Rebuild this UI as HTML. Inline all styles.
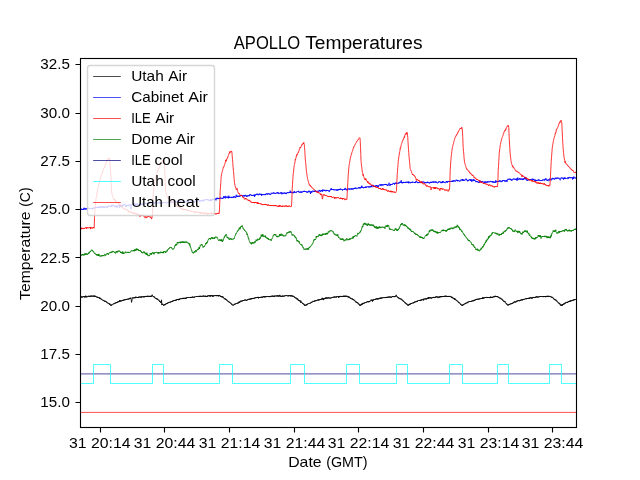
<!DOCTYPE html>
<html><head><meta charset="utf-8"><title>APOLLO Temperatures</title>
<style>
html,body{margin:0;padding:0;background:#fff;width:640px;height:480px;overflow:hidden;font-family:"Liberation Sans",sans-serif;}
svg{position:absolute;left:0;top:0;display:block;will-change:transform}
</style></head><body>
<svg width="640" height="480" viewBox="0 0 640 480">
<defs><clipPath id="ax"><rect x="80.5" y="58.5" width="496" height="369"/></clipPath></defs>
<g clip-path="url(#ax)" fill="none" stroke-linejoin="round" stroke-width="0.70">
<path d="M80.5 297.53L80.8 296.78L81 297.25L81.2 296.64L81.5 297.54L81.8 296.5L82 297.21L82.2 296.61L82.5 297.38L82.8 296.77L83 297.16L83.2 296.36L83.5 297.09L83.8 296.47L84 297.02L84.2 296.38L84.5 297.35L84.8 296.26L85 297.27L85.2 296.31L85.5 297.22L85.8 295.63L86 297.15L86.2 296.53L86.5 297.33L86.8 296.48L87 297.04L87.2 296.43L87.5 297.11L87.8 296.33L88 295.94L88.2 295.92L88.5 296.51L88.8 295.86L89 296.84L89.2 295.89L89.5 296.65L89.8 295.98L90 296.84L90.2 295.84L90.5 296.69L90.8 295.75L91 296.4L91.2 295.59L91.5 296.41L91.8 295.81L92 296.48L92.2 295.89L92.5 296.46L92.8 295.72L93 296.34L93.2 295.76L93.5 296.47L93.8 295.67L94 296.54L94.2 295.79L94.5 296.59L94.8 295.62L95 296.55L95.2 295.89L95.5 296.87L95.8 296.24L96 296.93L96.2 296.44L96.5 297.12L96.8 296.82L97 297.62L97.2 296.73L97.5 297.53L97.8 296.94L98 297.63L98.2 297.02L98.5 297.87L98.8 297.26L99 298.11L99.2 297.64L99.5 298.6L99.8 297.53L100 298.88L100.2 298.32L100.5 299.05L100.8 298.36L101 299.31L101.2 298.91L101.5 299.74L101.8 299.11L102 299.73L102.2 299.6L102.5 300.17L102.8 299.85L103 300.59L103.2 300.12L103.5 301.01L103.8 300.4L104 301.14L104.2 300.63L104.5 301.48L104.8 300.88L105 301.55L105.2 300.81L105.5 301.7L105.8 301.19L106 302.02L106.2 301.53L106.5 302.49L106.8 301.85L107 302.66L107.2 302.26L107.5 303.11L107.8 302.78L108 303.58L108.2 303.22L108.5 303.78L108.8 303.29L109 304.13L109.2 303.48L109.5 304.48L109.8 303.62L110 304.93L110.2 304.48L110.5 305.24L110.8 304.57L111 305.85L111.2 304.77L111.5 305.43L111.8 304.72L112 305.17L112.2 304.66L112.5 305L112.8 304.39L113 304.51L113.2 303.88L113.5 304.23L113.8 303.54L114 304.04L114.2 303.15L114.5 303.74L114.8 303.05L115 303.5L115.2 302.74L115.5 303.42L115.8 302.59L116 302.98L116.2 302.13L116.5 303.1L116.8 302.13L117 302.9L117.2 301.97L117.5 302.38L117.8 301.55L118 302.23L118.2 301.35L118.5 302.13L118.8 301.35L119 302.07L119.2 301.14L119.5 301.68L119.8 300L120 301.42L120.2 300.56L120.5 301.39L120.8 300.51L121 301.24L121.2 300.74L121.5 301.37L121.8 300.58L122 300.98L122.2 300.26L122.5 300.85L122.8 300.07L123 300.81L123.2 299.74L123.5 300.34L123.8 299.61L124 300.45L124.2 299.68L124.5 299.97L124.8 299.46L125 300.23L125.2 299.19L125.5 300.06L125.8 299.21L126 299.96L126.2 299.24L126.5 299.79L126.8 299.1L127 299.5L127.2 298.75L127.5 299.3L127.8 298.84L128 299.52L128.2 298.82L128.5 299.34L128.8 298.6L129 299.36L129.2 298.41L129.5 298.98L129.8 297.97L130 298.76L130.2 297.91L130.5 298.55L130.8 297.64L131 298.42L131.2 299.65L131.5 302.38L131.8 301.45L132 300.49L132.2 297.85L132.5 297.8L132.8 297.52L133 298.38L133.2 297.68L133.5 298.13L133.8 297.41L134 298.28L134.2 297.45L134.5 298.09L134.8 297.5L135 298.21L135.2 297.36L135.5 298.02L135.8 296.63L136 297.75L136.2 296.94L136.5 297.69L136.8 297.3L137 297.74L137.2 296.99L137.5 297.88L137.8 297.1L138 297.74L138.2 296.95L138.5 297.68L138.8 296.77L139 297.69L139.2 296.63L139.5 297.24L139.8 296.74L140 297.36L140.2 296.93L140.5 297.36L140.8 296.44L141 297.5L141.2 296.73L141.5 297.44L141.8 296.51L142 297.32L142.2 296.63L142.5 297.08L142.8 296.59L143 297.11L143.2 296.24L143.5 297.19L143.8 296.43L144 297.23L144.2 296.44L144.5 297.22L144.8 296.24L145 296.94L145.2 295.97L145.5 296.82L145.8 295.97L146 296.64L146.2 296.02L146.5 296.78L146.8 296.05L147 296.82L147.2 295.77L147.5 296.59L147.8 295.96L148 296.55L148.2 295.76L148.5 296.72L148.8 296.04L149 296.6L149.2 296L149.5 296.58L149.8 295.82L150 296.66L150.2 295.93L150.5 296.68L150.8 295.92L151 296.56L151.2 295.96L151.5 296.71L151.8 295.19L152 295.43L152.2 294.69L152.5 296L152.8 296.17L153 296.8L153.2 296.5L153.5 296.97L153.8 296.29L154 297.33L154.2 296.6L154.5 297.56L154.8 297.39L155 298.21L155.2 297.7L155.5 298.38L155.8 297.98L156 298.55L156.2 297.97L156.5 298.92L156.8 298.39L157 299.57L157.2 298.65L157.5 299.68L157.8 299.13L158 299.9L158.2 299.58L158.5 300.35L158.8 299.85L159 300.84L159.2 300.45L159.5 301.64L159.8 300.98L160 301.89L160.2 301.27L160.5 302.51L160.8 302.09L161 302.96L161.2 302.59L161.5 299.83L161.8 305.08L162 304.17L162.2 303.59L162.5 304.75L162.8 304.28L163 304.97L163.2 304.81L163.5 305.53L163.8 304.7L164 305.46L164.2 304.55L164.5 305.08L164.8 304.2L165 305.11L165.2 304.22L165.5 304.72L165.8 303.73L166 304.3L166.2 303.39L166.5 304.02L166.8 303.41L167 304.02L167.2 303.07L167.5 303.56L167.8 302.7L168 303.39L168.2 302.27L168.5 302.87L168.8 302.54L169 302.81L169.2 301.88L169.5 302.5L169.8 302.05L170 302.67L170.2 301.76L170.5 302.34L170.8 301.65L171 302.22L171.2 301.43L171.5 301.83L171.8 301.1L172 301.97L172.2 301.14L172.5 301.66L172.8 300.65L173 301.29L173.2 300.6L173.5 301.15L173.8 300.34L174 300.98L174.2 300.36L174.5 300.95L174.8 299.98L175 300.69L175.2 300.13L175.5 300.71L175.8 299.79L176 300.58L176.2 299.59L176.5 300.3L176.8 299.42L177 299.86L177.2 298.97L177.5 300L177.8 299.04L178 299.77L178.2 299.12L178.5 300.14L178.8 299.21L179 300.1L179.2 298.65L179.5 299.78L179.8 299.03L180 299.34L180.2 298.51L180.5 299.03L180.8 298.38L181 299.08L181.2 298.66L181.5 299.14L181.8 298.46L182 299.01L182.2 298.25L182.5 298.99L182.8 297.88L183 298.74L183.2 297.93L183.5 298.76L183.8 297.95L184 298.75L184.2 297.81L184.5 298.61L184.8 298.1L185 298.69L185.2 297.89L185.5 298.7L185.8 297.71L186 298.7L186.2 297.81L186.5 298.4L186.8 297.38L187 297.91L187.2 297.38L187.5 297.89L187.8 297.2L188 297.93L188.2 297.34L188.5 297.86L188.8 297.33L189 297.72L189.2 297.26L189.5 297.89L189.8 297.27L190 297.82L190.2 297.03L190.5 297.99L190.8 296.93L191 297.88L191.2 297.06L191.5 297.61L191.8 297.07L192 297.68L192.2 296.67L192.5 297.43L192.8 296.6L193 297.43L193.2 296.93L193.5 297.44L193.8 296.94L194 297.42L194.2 296.8L194.5 297.66L194.8 296.73L195 297.14L195.2 296.55L195.5 296.89L195.8 296.38L196 296.72L196.2 296.24L196.5 296.85L196.8 296.21L197 296.88L197.2 296.21L197.5 296.76L197.8 296.23L198 296.79L198.2 295.93L198.5 296.65L198.8 296.16L199 296.87L199.2 296.16L199.5 296.69L199.8 295.75L200 296.83L200.2 296.22L200.5 296.75L200.8 295.79L201 296.5L201.2 295.95L201.5 296.69L201.8 295.95L202 296.49L202.2 296.07L202.5 296.7L202.8 295.78L203 296.37L203.2 295.63L203.5 296.35L203.8 295.78L204 296.49L204.2 295.82L204.5 296.64L204.8 296.05L205 296.66L205.2 295.66L205.5 296.51L205.8 295.83L206 296.82L206.2 295.98L206.5 296.69L206.8 296L207 296.72L207.2 295.88L207.5 296.63L207.8 295.58L208 296.31L208.2 295.5L208.5 296.15L208.8 295.53L209 296.09L209.2 295.45L209.5 296.39L209.8 295.54L210 296.11L210.2 295.33L210.5 296.62L210.8 295.27L211 295.98L211.2 295L211.5 295.86L211.8 295.4L212 296.45L212.2 295.61L212.5 296.54L212.8 295.17L213 296.4L213.2 295.84L213.5 296.4L213.8 295.51L214 296.25L214.2 295.46L214.5 295.96L214.8 295.25L215 295.89L215.2 295.23L215.5 295.93L215.8 295.4L216 296.1L216.2 295.34L216.5 296.07L216.8 295.22L217 296.08L217.2 295.27L217.5 295.99L217.8 295.14L218 296.18L218.2 295.24L218.5 296.34L218.8 295.39L219 296.14L219.2 294.99L219.5 295.96L219.8 295.39L220 296.25L220.2 295.72L220.5 296.7L220.8 296.17L221 296.92L221.2 296.28L221.5 297.25L221.8 296.12L222 297.09L222.2 296.47L222.5 297.38L222.8 296.49L223 297.44L223.2 296.93L223.5 297.98L223.8 297.7L224 298.49L224.2 298.25L224.5 299.09L224.8 298.34L225 299.32L225.2 298.51L225.5 299.55L225.8 298.96L226 300.01L226.2 299.38L226.5 300.25L226.8 299.79L227 300.47L227.2 300.06L227.5 300.85L227.8 300.6L228 301.5L228.2 301.04L228.5 301.83L228.8 301.45L229 302.3L229.2 301.77L229.5 302.81L229.8 302.24L230 302.83L230.2 302.67L230.5 303.42L230.8 302.87L231 303.91L231.2 303.63L231.5 304.57L231.8 303.75L232 304.66L232.2 304.46L232.5 305.22L232.8 304.73L233 305.55L233.2 304.99L233.5 305.31L233.8 304.55L234 305L234.2 304.25L234.5 304.83L234.8 303.72L235 304.47L235.2 303.82L235.5 304.21L235.8 303.39L236 303.97L236.2 303.5L236.5 303.88L236.8 303.18L237 303.6L237.2 302.97L237.5 303.5L237.8 302.51L238 303.15L238.2 302.61L238.5 303.33L238.8 302.44L239 302.97L239.2 301.34L239.5 302.83L239.8 301.94L240 302.28L240.2 301.5L240.5 301.85L240.8 300.61L241 301.04L241.2 300.92L241.5 301.61L241.8 300.73L242 301.33L242.2 300.81L242.5 301.23L242.8 300.28L243 300.99L243.2 300.15L243.5 300.86L243.8 300.22L244 300.78L244.2 300.14L244.5 300.39L244.8 299.61L245 300.33L245.2 299.66L245.5 300.27L245.8 299.61L246 300.51L246.2 300.11L246.5 300.64L246.8 300.02L247 300.6L247.2 299.65L247.5 300.04L247.8 299.04L248 299.74L248.2 299.2L248.5 299.82L248.8 298.85L249 299.11L249.2 298.95L249.5 299.75L249.8 298.82L250 299.6L250.2 298.7L250.5 299.29L250.8 298.59L251 299.3L251.2 298.25L251.5 299.21L251.8 298.13L252 299.07L252.2 298.05L252.5 298.67L252.8 297.98L253 298.87L253.2 297.91L253.5 298.72L253.8 298.11L254 298.58L254.2 297.94L254.5 298.64L254.8 297.64L255 298.13L255.2 297.57L255.5 298.21L255.8 297.36L256 298.01L256.2 297.3L256.5 298.09L256.8 297.37L257 297.95L257.2 297.23L257.5 297.68L257.8 296.95L258 297.86L258.2 296.87L258.5 298.44L258.8 297.01L259 297.7L259.2 297.19L259.5 297.96L259.8 297.18L260 297.98L260.2 297.28L260.5 297.99L260.8 297.19L261 297.72L261.2 296.67L261.5 297.36L261.8 296.91L262 297.34L262.2 296.72L262.5 297.66L262.8 296.85L263 297.45L263.2 296.38L263.5 296.94L263.8 296.23L264 297.13L264.2 296.17L264.5 297.23L264.8 296.44L265 297.29L265.2 296.59L265.5 297.26L265.8 296.33L266 297.14L266.2 296.39L266.5 296.9L266.8 296.27L267 296.94L267.2 296.15L267.5 296.74L267.8 296.27L268 296.8L268.2 296.17L268.5 297.06L268.8 296.23L269 297.04L269.2 296.37L269.5 297.07L269.8 296.48L270 297.09L270.2 296.25L270.5 296.83L270.8 296.14L271 296.89L271.2 295.78L271.5 296.5L271.8 295.99L272 296.44L272.2 295.66L272.5 296.57L272.8 295.73L273 296.5L273.2 295.83L273.5 296.64L273.8 296L274 296.49L274.2 295.68L274.5 296.69L274.8 295.67L275 296.56L275.2 295.74L275.5 296.19L275.8 295.84L276 296.18L276.2 295.61L276.5 296.34L276.8 295.49L277 296.23L277.2 295.42L277.5 296.32L277.8 295.59L278 296.41L278.2 295.61L278.5 296.48L278.8 295.57L279 296.31L279.2 295.65L279.5 296.28L279.8 294.87L280 296.42L280.2 295.66L280.5 296.43L280.8 295.89L281 296.51L281.2 295.95L281.5 296.81L281.8 296.11L282 296.62L282.2 295.69L282.5 296.59L282.8 295.63L283 296.48L283.2 295.81L283.5 296.4L283.8 295.8L284 296.41L284.2 295.75L284.5 296.32L284.8 295.65L285 296.2L285.2 295.34L285.5 295.95L285.8 295.39L286 295.79L286.2 295.54L286.5 296.08L286.8 295.14L287 296.03L287.2 295.45L287.5 296L287.8 296.2L288 296.5L288.2 295.68L288.5 296.22L288.8 295.23L289 295.92L289.2 295.18L289.5 296.1L289.8 295.26L290 296.17L290.2 295.42L290.5 296.34L290.8 295.62L291 296.14L291.2 295.45L291.5 296.27L291.8 295.41L292 296.42L292.2 295.6L292.5 296.39L292.8 295.86L293 296.45L293.2 295.84L293.5 297.04L293.8 296.5L294 296.98L294.2 296.43L294.5 297.61L294.8 297.15L295 297.72L295.2 297.26L295.5 298.27L295.8 297.72L296 298.56L296.2 297.8L296.5 298.37L296.8 298.12L297 299.51L297.2 298.27L297.5 299.47L297.8 298.91L298 300.1L298.2 299.58L298.5 300.66L298.8 299.99L299 300.91L299.2 300.18L299.5 301.11L299.8 300.48L300 301.26L300.2 300.98L300.5 302.51L300.8 300.6L301 302.27L301.2 301.78L301.5 302.67L301.8 302.2L302 303.07L302.2 302.84L302.5 303.64L302.8 303.05L303 304.01L303.2 303.56L303.5 304.35L303.8 303.79L304 304.91L304.2 304.36L304.5 305.4L304.8 304.74L305 305.99L305.2 304.89L305.5 305.4L305.8 304.83L306 305.49L306.2 304.58L306.5 305.17L306.8 304.22L307 305.17L307.2 303.96L307.5 304.33L307.8 303.68L308 304.13L308.2 303.32L308.5 303.66L308.8 303.18L309 303.6L309.2 303.17L309.5 303.56L309.8 303.01L310 303.45L310.2 302.72L310.5 303.39L310.8 302.64L311 303.03L311.2 302.21L311.5 302.79L311.8 301.84L312 302.51L312.2 301.66L312.5 301.14L312.8 301.2L313 301.98L313.2 301.12L313.5 301.52L313.8 300.99L314 301.52L314.2 300.73L314.5 301.51L314.8 300.57L315 301.26L315.2 300.51L315.5 301.2L315.8 300.42L316 301.08L316.2 300.12L316.5 300.73L316.8 300.21L317 300.63L317.2 299.87L317.5 300.35L317.8 299.71L318 300.35L318.2 299.51L318.5 300.38L318.8 299.52L319 300.46L319.2 299.52L319.5 299.97L319.8 299.32L320 300.07L320.2 299.18L320.5 299.91L320.8 298.97L321 299.63L321.2 299.09L321.5 299.55L321.8 298.55L322 299.42L322.2 297.84L322.5 299.39L322.8 298.36L323 299.03L323.2 298.43L323.5 300.12L323.8 298.51L324 299.14L324.2 298.4L324.5 299.14L324.8 298.08L325 298.99L325.2 297.88L325.5 298.45L325.8 297.53L326 298.51L326.2 297.45L326.5 298.34L326.8 297.73L327 298.58L327.2 297.58L327.5 298.31L327.8 297.76L328 298.47L328.2 297.44L328.5 298.15L328.8 297.52L329 298.23L329.2 297.47L329.5 298.32L329.8 297.74L330 298.35L330.2 297.85L330.5 298.41L330.8 297.71L331 298.32L331.2 297.66L331.5 297.94L331.8 297.35L332 297.88L332.2 297.2L332.5 297.99L332.8 296.94L333 297.67L333.2 296.99L333.5 297.38L333.8 296.74L334 297.44L334.2 296.59L334.5 297.3L334.8 296.54L335 297.43L335.2 296.83L335.5 297.35L335.8 296.75L336 297.38L336.2 296.59L336.5 297.43L336.8 296.29L337 296.86L337.2 296.48L337.5 297L337.8 296.3L338 296.85L338.2 296.38L338.5 297.86L338.8 296.38L339 297.22L339.2 296.25L339.5 297.17L339.8 295.95L340 297.02L340.2 296.21L340.5 296.73L340.8 295.93L341 296.68L341.2 295.96L341.5 297.04L341.8 296.15L342 296.86L342.2 296.31L342.5 296.98L342.8 296.19L343 296.84L343.2 295.85L343.5 296.73L343.8 295.76L344 296.63L344.2 295.75L344.5 296.64L344.8 295.89L345 296.66L345.2 295.81L345.5 296.53L345.8 295.78L346 296.71L346.2 295.87L346.5 296.47L346.8 295.8L347 296.48L347.2 295.96L347.5 296.91L347.8 296.46L348 297.32L348.2 296.4L348.5 297.32L348.8 296.57L349 297.65L349.2 296.77L349.5 297.67L349.8 297.43L350 298.2L350.2 297.58L350.5 298.51L350.8 297.94L351 298.78L351.2 298.09L351.5 298.74L351.8 298.61L352 299.34L352.2 298.49L352.5 299.47L352.8 298.87L353 299.74L353.2 299.15L353.5 300.03L353.8 299.34L354 300.46L354.2 300.08L354.5 300.79L354.8 300.4L355 301.18L355.2 300.91L355.5 301.92L355.8 301.64L356 302.42L356.2 301.58L356.5 302.67L356.8 302.15L357 302.92L357.2 302.18L357.5 303.16L357.8 302.66L358 303.57L358.2 303.1L358.5 304.1L358.8 303.72L359 304.75L359.2 304.26L359.5 305.25L359.8 304.62L360 305.89L360.2 304.86L360.5 305.47L360.8 304.66L361 305.36L361.2 304.14L361.5 305.01L361.8 304L362 304.69L362.2 302.93L362.5 304.39L362.8 303.78L363 304.05L363.2 303.31L363.5 303.85L363.8 302.83L364 303.63L364.2 302.81L364.5 303.19L364.8 302.52L365 303.12L365.2 302.42L365.5 302.99L365.8 302.38L366 302.76L366.2 302.13L366.5 302.67L366.8 301.71L367 302.32L367.2 301.63L367.5 302.09L367.8 301.27L368 302L368.2 301.08L368.5 302.22L368.8 301.37L369 302.11L369.2 301.11L369.5 302.05L369.8 301.25L370 301.64L370.2 300.55L370.5 300.35L370.8 300.32L371 300.71L371.2 299.69L371.5 300.55L371.8 299.75L372 300.72L372.2 299.77L372.5 301.59L372.8 299.75L373 300.45L373.2 299.81L373.5 300.44L373.8 299.25L374 300.06L374.2 299.32L374.5 299.74L374.8 299.12L375 299.87L375.2 298.95L375.5 299.56L375.8 298.76L376 299.38L376.2 298.59L376.5 299.24L376.8 298.32L377 299.25L377.2 298.39L377.5 299.39L377.8 298.63L378 299.28L378.2 298.69L378.5 299.26L378.8 298.2L379 299.07L379.2 297.99L379.5 298.85L379.8 297.78L380 298.51L380.2 297.88L380.5 298.56L380.8 297.87L381 298.59L381.2 297.18L381.5 298.43L381.8 297.98L382 298.41L382.2 297.74L382.5 297.99L382.8 297.43L383 298L383.2 297.38L383.5 298.11L383.8 297.56L384 297.95L384.2 297.41L384.5 297.96L384.8 297.35L385 298.14L385.2 297.21L385.5 297.9L385.8 296.99L386 297.71L386.2 296.91L386.5 297.79L386.8 297.17L387 297.82L387.2 296.94L387.5 297.9L387.8 296.86L388 297.33L388.2 296.61L388.5 297.41L388.8 296.72L389 297.28L389.2 296.68L389.5 297.37L389.8 296.67L390 297.43L390.2 296.6L390.5 297.4L390.8 296.91L391 297.73L391.2 296.86L391.5 297.44L391.8 296.68L392 297.18L392.2 296.54L392.5 296.93L392.8 296.17L393 297.03L393.2 296.28L393.5 296.96L393.8 296.36L394 297.2L394.2 296.31L394.5 296.88L394.8 296.08L395 296.86L395.2 296.26L395.5 296.76L395.8 295.51L396 295.64L396.2 294.83L396.5 296.28L396.8 296.03L397 297.07L397.2 296.67L397.5 297.42L397.8 297.13L398 298.04L398.2 297.51L398.5 298.29L398.8 297.56L399 298.51L399.2 298.09L399.5 298.77L399.8 298.12L400 299.16L400.2 298.54L400.5 299.16L400.8 298.78L401 299.48L401.2 298.71L401.5 299.74L401.8 299.32L402 300.25L402.2 299.7L402.5 300.45L402.8 300.01L403 301.2L403.2 300.64L403.5 301.48L403.8 301.02L404 301.96L404.2 301.81L404.5 302.42L404.8 302.02L405 303.13L405.2 302.4L405.5 303.32L405.8 302.96L406 303.79L406.2 303.23L406.5 304.26L406.8 303.72L407 304.59L407.2 304.07L407.5 305.24L407.8 304.84L408 305.6L408.2 304.83L408.5 305.36L408.8 304.41L409 305.23L409.2 304.14L409.5 304.98L409.8 303.85L410 304.29L410.2 303.59L410.5 304.43L410.8 303.4L411 304.02L411.2 303.18L411.5 303.85L411.8 303L412 303.48L412.2 302.89L412.5 303.21L412.8 302.81L413 303.3L413.2 302.52L413.5 303.22L413.8 302.18L414 302.99L414.2 302.04L414.5 302.31L414.8 301.54L415 302.49L415.2 301.71L415.5 302.13L415.8 301.64L416 302.1L416.2 301.1L416.5 301.93L416.8 300.91L417 301.78L417.2 300.96L417.5 301.53L417.8 300.58L418 300.99L418.2 300.42L418.5 300.64L418.8 300.09L419 300.63L419.2 300.04L419.5 300.68L419.8 300.17L420 300.79L420.2 299.86L420.5 300.68L420.8 299.7L421 300.55L421.2 299.84L421.5 300.37L421.8 299.48L422 300.26L422.2 299.51L422.5 300.06L422.8 299.36L423 299.71L423.2 298.92L423.5 300.45L423.8 298.77L424 299.37L424.2 298.87L424.5 299.31L424.8 298.75L425 299.42L425.2 298.44L425.5 299.27L425.8 298.5L426 299.15L426.2 298.43L426.5 299.36L426.8 298.45L427 299.09L427.2 298.07L427.5 298.82L427.8 297.97L428 298.67L428.2 296.99L428.5 298.63L428.8 297.75L429 298.47L429.2 297.42L429.5 298.12L429.8 297.32L430 298.3L430.2 297.42L430.5 298.12L430.8 297.54L431 298.38L431.2 297.76L431.5 298.53L431.8 297.58L432 298.14L432.2 297.63L432.5 298.12L432.8 297.25L433 297.91L433.2 297.3L433.5 297.98L433.8 296.87L434 297.93L434.2 296.98L434.5 297.6L434.8 297.79L435 297.7L435.2 297L435.5 297.84L435.8 296.59L436 297.15L436.2 296.42L436.5 297.16L436.8 296.53L437 297.41L437.2 296.79L437.5 297.23L437.8 296.61L438 298.09L438.2 296.81L438.5 297.33L438.8 296.83L439 297.39L439.2 296.69L439.5 297.36L439.8 296.47L440 297.51L440.2 296.38L440.5 297.04L440.8 296.1L441 297.12L441.2 296.09L441.5 296.99L441.8 296.28L442 297.14L442.2 296.33L442.5 296.96L442.8 296L443 296.66L443.2 296.11L443.5 296.74L443.8 295.96L444 296.89L444.2 296.17L444.5 296.72L444.8 295.82L445 296.65L445.2 295.86L445.5 296.63L445.8 295.68L446 296.39L446.2 295.82L446.5 296.77L446.8 296.07L447 296.91L447.2 296.24L447.5 296.64L447.8 295.96L448 296.95L448.2 295.98L448.5 296.67L448.8 296.12L449 296.76L449.2 295.97L449.5 296.52L449.8 295.91L450 296.83L450.2 296.15L450.5 297.03L450.8 296.5L451 297.22L451.2 296.72L451.5 297.57L451.8 296.75L452 298L452.2 297.1L452.5 298.13L452.8 297.43L453 298.46L453.2 297.85L453.5 298.44L453.8 298.15L454 299.15L454.2 298.51L454.5 299.53L454.8 298.05L455 299.69L455.2 299.04L455.5 299.81L455.8 299.32L456 300.39L456.2 300.05L456.5 300.61L456.8 300.14L457 301.12L457.2 300.77L457.5 301.39L457.8 300.97L458 302.11L458.2 301.76L458.5 302.64L458.8 302.18L459 302.93L459.2 302.4L459.5 303.32L459.8 302.95L460 303.8L460.2 303.59L460.5 304.5L460.8 303.91L461 304.91L461.2 304.44L461.5 305.02L461.8 304.89L462 305.94L462.2 304.86L462.5 305.73L462.8 304.7L463 305.39L463.2 304.31L463.5 305L463.8 304.13L464 304.6L464.2 303.85L464.5 304.26L464.8 303.58L465 304.08L465.2 303.28L465.5 303.95L465.8 302.9L466 303.43L466.2 302.79L466.5 303.21L466.8 302.6L467 303.25L467.2 302.46L467.5 302.96L467.8 301.93L468 302.42L468.2 301.59L468.5 302.3L468.8 301.69L469 302.09L469.2 301.43L469.5 302.01L469.8 301.25L470 301.77L470.2 301.21L470.5 301.78L470.8 301.07L471 301.57L471.2 301.04L471.5 301.5L471.8 300.83L472 301.44L472.2 300.45L472.5 301.16L472.8 300.63L473 301.19L473.2 300.41L473.5 301.16L473.8 300.02L474 300.82L474.2 299.93L474.5 300.58L474.8 299.87L475 300.58L475.2 299.4L475.5 299.96L475.8 299.35L476 299.97L476.2 299.23L476.5 299.84L476.8 298.95L477 299.62L477.2 298.81L477.5 299.58L477.8 298.92L478 299.49L478.2 298.73L478.5 299.46L478.8 298.87L479 298.6L479.2 298.38L479.5 299.4L479.8 298.64L480 299.21L480.2 298.35L480.5 299.03L480.8 298.3L481 298.83L481.2 298.38L481.5 298.76L481.8 298.02L482 298.8L482.2 298.06L482.5 298.77L482.8 297.09L483 298.55L483.2 297.75L483.5 298.52L483.8 297.53L484 298.19L484.2 297.58L484.5 298.25L484.8 297.54L485 297.95L485.2 297.36L485.5 297.92L485.8 297.14L486 297.82L486.2 296.95L486.5 297.77L486.8 297.23L487 297.93L487.2 296.94L487.5 298.07L487.8 297.16L488 297.78L488.2 297.04L488.5 297.9L488.8 297.31L489 297.77L489.2 297.1L489.5 297.89L489.8 296.98L490 298.11L490.2 297.16L490.5 297.9L490.8 296.46L491 297.84L491.2 297.13L491.5 297.57L491.8 296.97L492 297.81L492.2 297.08L492.5 297.67L492.8 296.82L493 297.45L493.2 296.58L493.5 297.18L493.8 296.51L494 297.06L494.2 296.34L494.5 297.16L494.8 296.26L495 296.99L495.2 295.72L495.5 296.98L495.8 296.31L496 297.01L496.2 296.1L496.5 296.89L496.8 296.35L497 297.05L497.2 296.2L497.5 297.05L497.8 296.38L498 297.37L498.2 296.76L498.5 297.6L498.8 297.26L499 297.86L499.2 297.52L499.5 298.15L499.8 297.59L500 298.58L500.2 297.84L500.5 298.9L500.8 298.15L501 299.11L501.2 298.6L501.5 299.26L501.8 298.83L502 299.84L502.2 299.37L502.5 300.35L502.8 299.81L503 300.87L503.2 300.59L503.5 301.43L503.8 300.71L504 301.3L504.2 301.09L504.5 302.08L504.8 301.27L505 302.2L505.2 301.71L505.5 302.85L505.8 302.7L506 303.5L506.2 303.14L506.5 304.18L506.8 303.73L507 304.73L507.2 304.3L507.5 304.94L507.8 304.62L508 305.74L508.2 304.68L508.5 305.15L508.8 304.25L509 304.93L509.2 304.31L509.5 304.78L509.8 303.87L510 304.41L510.2 303.89L510.5 304.28L510.8 303.39L511 304.1L511.2 303.45L511.5 304.13L511.8 303.24L512 303.66L512.2 303.08L512.5 303.81L512.8 302.82L513 303.37L513.2 302.36L513.5 302.84L513.8 301.96L514 302.6L514.2 301.55L514.5 302.29L514.8 301.56L515 302.29L515.2 301.47L515.5 302.36L515.8 301.74L516 302.29L516.2 301.46L516.5 301.91L516.8 300.85L517 301.53L517.2 300.52L517.5 301.25L517.8 300.49L518 300.93L518.2 300.3L518.5 300.96L518.8 300.33L519 301.22L519.2 300.32L519.5 301.15L519.8 300.46L520 300.91L520.2 299.93L520.5 300.54L520.8 299.96L521 300.47L521.2 299.31L521.5 300.3L521.8 299.49L522 300.05L522.2 299.41L522.5 300.36L522.8 299.4L523 299.91L523.2 299.36L523.5 300.04L523.8 298.93L524 299.71L524.2 299.16L524.5 299.56L524.8 298.74L525 298.53L525.2 298.7L525.5 299.18L525.8 298.41L526 299.2L526.2 298.26L526.5 299.14L526.8 298.1L527 298.84L527.2 298.26L527.5 298.79L527.8 298.09L528 298.81L528.2 297.93L528.5 298.66L528.8 297.85L529 298.78L529.2 297.93L529.5 298.66L529.8 297.7L530 298.48L530.2 297.47L530.5 298.08L530.8 297.38L531 298.22L531.2 297.58L531.5 298.5L531.8 297.67L532 298.54L532.2 297.56L532.5 298.3L532.8 297.38L533 297.76L533.2 296.92L533.5 297.72L533.8 296.99L534 297.81L534.2 297.18L534.5 298.02L534.8 297.39L535 297.97L535.2 297.03L535.5 297.49L535.8 296.66L536 297.41L536.2 296.57L536.5 297.3L536.8 296.28L537 297.15L537.2 296.56L537.5 297.4L537.8 296.76L538 297.46L538.2 296.77L538.5 297.34L538.8 296.72L539 297.17L539.2 296.33L539.5 296.94L539.8 296.16L540 296.86L540.2 296.36L540.5 296.96L540.8 296.22L541 297.06L541.2 296.44L541.5 296.95L541.8 296.43L542 297.01L542.2 296.49L542.5 297.01L542.8 296.24L543 297.06L543.2 296.27L543.5 297.11L543.8 296.13L544 296.91L544.2 296.16L544.5 296.76L544.8 296.03L545 296.97L545.2 296.21L545.5 297.21L545.8 296.2L546 296.85L546.2 296.22L546.5 296.89L546.8 295.94L547 296.71L547.2 295.85L547.5 296.45L547.8 295.88L548 296.81L548.2 295.91L548.5 296.74L548.8 295.89L549 296.7L549.2 296.28L549.5 296.9L549.8 296.12L550 296.56L550.2 295.93L550.5 296.93L550.8 297.06L551 296.86L551.2 296.6L551.5 297.44L551.8 296.67L552 297.77L552.2 297.09L552.5 297.83L552.8 297.48L553 298.15L553.2 297.83L553.5 298.95L553.8 298.49L554 299.43L554.2 298.94L554.5 299.66L554.8 299.08L555 300.1L555.2 299.63L555.5 300.21L555.8 299.61L556 300.8L556.2 300.24L556.5 301.2L556.8 300.72L557 301.52L557.2 301.22L557.5 302.05L557.8 301.92L558 302.71L558.2 302.4L558.5 303.21L558.8 302.63L559 303.5L559.2 302.98L559.5 303.9L559.8 303.34L560 304.63L560.2 304.08L560.5 305.37L560.8 304.73L561 305.82L561.2 305.05L561.5 305.58L561.8 304.48L562 305.18L562.2 304.36L562.5 305.68L562.8 304.16L563 304.47L563.2 303.94L563.5 304.53L563.8 303.56L564 304.4L564.2 303.38L564.5 304.11L564.8 303.05L565 303.51L565.2 302.53L565.5 303.33L565.8 302.48L566 302.91L566.2 302.43L566.5 303.04L566.8 302.38L567 302.99L567.2 301.84L567.5 302.65L567.8 301.88L568 302.46L568.2 301.48L568.5 301.92L568.8 301.11L569 301.82L569.2 301.03L569.5 301.75L569.8 300.73L570 301.47L570.2 300.61L570.5 301.41L570.8 300.4L571 301.36L571.2 300.39L571.5 301.01L571.8 300.48L572 301.08L572.2 300.28L572.5 300.51L572.8 299.94L573 300.62L573.2 299.62L573.5 300.34L573.8 299.54L574 300.44L574.2 299.52L574.5 300L574.8 299.42L575 299.98L575.2 299.32L575.5 299.8L575.8 299.32L576 299.9L576.2 299.06L576.5 299.71" stroke="#000" stroke-width="0.85"/>
<path d="M80.5 209.76L80.8 208.81L81 209.46L81.2 208.52L81.5 209.95L81.8 209.29L82 209.69L82.2 209.19L82.5 210.03L82.8 209.01L83 209.55L83.2 208.96L83.5 209.44L83.8 208.31L84 209.85L84.2 207.79L84.5 208.42L84.8 207.93L85 209.07L85.2 208.56L85.5 209.33L85.8 208.78L86 209.74L86.2 208.43L86.5 209.18L86.8 208.19L87 208.86L87.2 208.19L87.5 208.44L87.8 207.89L88 207.52L88.2 208.1L88.5 208.54L88.8 208.04L89 208.67L89.2 208.09L89.5 208.82L89.8 208.35L90 209.08L90.2 208.35L90.5 208.73L90.8 208.37L91 208.68L91.2 208.17L91.5 208.89L91.8 208.01L92 209.07L92.2 208.51L92.5 209.36L92.8 207.82L93 208.83L93.2 208.08L93.5 208.52L93.8 207.59L94 208.09L94.2 207.83L94.5 208.29L94.8 207.46L95 208.23L95.2 207.5L95.5 208.09L95.8 206.97L96 207.98L96.2 206.96L96.5 208.11L96.8 207.18L97 207.93L97.2 207.09L97.5 208.02L97.8 207.48L98 207.31L98.2 206.92L98.5 207.74L98.8 206.69L99 207.8L99.2 206.67L99.5 207.87L99.8 206.86L100 207.43L100.2 206.69L100.5 207.61L100.8 206.56L101 207.1L101.2 206.28L101.5 207.25L101.8 206.61L102 207.33L102.2 206.4L102.5 207.42L102.8 206.6L103 207.56L103.2 206.61L103.5 207.53L103.8 206.69L104 207.57L104.2 207.13L104.5 208.01L104.8 206.84L105 207.65L105.2 206.95L105.5 207.25L105.8 206.74L106 207.34L106.2 206.36L106.5 207.18L106.8 206.23L107 207.6L107.2 206.59L107.5 207.56L107.8 206.44L108 206.81L108.2 206.01L108.5 206.56L108.8 205.46L109 206.24L109.2 205.82L109.5 206.48L109.8 206.87L110 206.8L110.2 206.44L110.5 207.06L110.8 205.8L111 206.92L111.2 206.35L111.5 206.54L111.8 204.78L112 206.44L112.2 205.61L112.5 206.04L112.8 205.12L113 205.7L113.2 204.69L113.5 205.5L113.8 205.34L114 205.98L114.2 206.64L114.5 206.43L114.8 206.04L115 206.7L115.2 205.96L115.5 207.06L115.8 205.43L116 207.13L116.2 205.96L116.5 206.96L116.8 205.99L117 207.91L117.2 205.9L117.5 206.54L117.8 205.86L118 205.88L118.2 205.23L118.5 205.93L118.8 205.23L119 206.2L119.2 205.55L119.5 207.8L119.8 205.83L120 206.71L120.2 204.54L120.5 206.43L120.8 205.77L121 205.81L121.2 205.06L121.5 205.86L121.8 206.54L122 205.93L122.2 204.73L122.5 207.12L122.8 205.18L123 206.05L123.2 205.39L123.5 205.54L123.8 204.66L124 204.92L124.2 203.84L124.5 204.79L124.8 203.87L125 205.47L125.2 205.37L125.5 206.54L125.8 206.24L126 207.09L126.2 204.98L126.5 206.51L126.8 205.43L127 205.84L127.2 204.94L127.5 205.41L127.8 204.84L128 205.51L128.2 204.74L128.5 206.19L128.8 205.16L129 205.54L129.2 204.59L129.5 205.21L129.8 204.83L130 205.07L130.2 204.26L130.5 205.23L130.8 205.73L131 209.33L131.2 206.73L131.5 206.07L131.8 204.12L132 204.65L132.2 203.89L132.5 203.37L132.8 204.43L133 204.21L133.2 204.5L133.5 205.32L133.8 205.75L134 205.02L134.2 202.8L134.5 204.75L134.8 203.72L135 204.4L135.2 203.61L135.5 205.71L135.8 203.43L136 204.01L136.2 204L136.5 205.46L136.8 203.87L137 204.82L137.2 204.17L137.5 205.17L137.8 203.36L138 205.1L138.2 204.12L138.5 204.61L138.8 204.55L139 205.27L139.2 204.35L139.5 204.99L139.8 204.74L140 205.41L140.2 204.15L140.5 204.63L140.8 203.87L141 204.62L141.2 203.65L141.5 204.66L141.8 203.81L142 204.52L142.2 203.58L142.5 204.65L142.8 202.76L143 204.13L143.2 203.22L143.5 204.16L143.8 203.67L144 203.92L144.2 203.61L144.5 204.57L144.8 203.34L145 202.41L145.2 202.97L145.5 203.62L145.8 203.05L146 203.83L146.2 203.23L146.5 204.07L146.8 203.35L147 204.1L147.2 203.28L147.5 204.04L147.8 203.1L148 204.23L148.2 203.75L148.5 203.97L148.8 201.66L149 204.06L149.2 203.12L149.5 203.36L149.8 202.35L150 202.93L150.2 201.84L150.5 202.61L150.8 202.07L151 202.91L151.2 203.38L151.5 203L151.8 202.6L152 203.4L152.2 202.72L152.5 203.28L152.8 202.95L153 203.48L153.2 202.96L153.5 203.48L153.8 202.54L154 203.57L154.2 202.66L154.5 203.65L154.8 202.6L155 203.64L155.2 202.69L155.5 202.84L155.8 202.94L156 203.14L156.2 202.38L156.5 203.17L156.8 202.73L157 204.05L157.2 203.81L157.5 203.23L157.8 202.37L158 203.19L158.2 202.35L158.5 202.82L158.8 202.42L159 203.2L159.2 202.54L159.5 203.38L159.8 201.55L160 203.69L160.2 202.54L160.5 203.74L160.8 202.97L161 203.8L161.2 202.76L161.5 203.36L161.8 202.72L162 203.44L162.2 202.4L162.5 203.07L162.8 202.31L163 203.19L163.2 201.96L163.5 202.79L163.8 202.21L164 202.9L164.2 202.21L164.5 202.84L164.8 202.4L165 202.93L165.2 201.83L165.5 202.95L165.8 202.39L166 203.22L166.2 203.15L166.5 203.49L166.8 202.98L167 203.27L167.2 202.34L167.5 202.79L167.8 202.1L168 202.86L168.2 202.02L168.5 202.98L168.8 201.89L169 202.74L169.2 201.77L169.5 202.67L169.8 201.68L170 202.43L170.2 202.09L170.5 202.79L170.8 202.12L171 202.77L171.2 202.25L171.5 203.04L171.8 201.73L172 202.48L172.2 201.79L172.5 202.22L172.8 201.59L173 202.22L173.2 201.48L173.5 202.21L173.8 201.37L174 202.41L174.2 201.25L174.5 202.03L174.8 201.41L175 202.09L175.2 201.38L175.5 202.1L175.8 201.57L176 202.42L176.2 201.47L176.5 202.29L176.8 201.54L177 202.01L177.2 201.4L177.5 201.93L177.8 200.87L178 201.58L178.2 200.67L178.5 202.36L178.8 201.24L179 202.31L179.2 200.96L179.5 202.85L179.8 201.94L180 202.43L180.2 201.07L180.5 202.04L180.8 201.25L181 202.21L181.2 201.74L181.5 202.66L181.8 201.96L182 202.7L182.2 201.79L182.5 201.56L182.8 201.66L183 201.31L183.2 201.34L183.5 201.9L183.8 200.8L184 201.39L184.2 200.82L184.5 201.87L184.8 201.19L185 202.24L185.2 202.1L185.5 202.74L185.8 201.87L186 202.38L186.2 201.81L186.5 202.21L186.8 200.76L187 201.51L187.2 201.1L187.5 202L187.8 201.17L188 202.05L188.2 201.41L188.5 200.9L188.8 199.81L189 202.3L189.2 202.17L189.5 202.7L189.8 202.1L190 203L190.2 201.88L190.5 202.26L190.8 200.81L191 201.49L191.2 201.72L191.5 200.9L191.8 200.96L192 201.16L192.2 200.45L192.5 200.91L192.8 199.69L193 200.67L193.2 200.81L193.5 201.4L193.8 201.3L194 202.71L194.2 201.81L194.5 202.41L194.8 201.23L195 202.14L195.2 200.83L195.5 201.52L195.8 199.19L196 201.66L196.2 200.8L196.5 201.34L196.8 201.38L197 201.89L197.2 201.09L197.5 201.75L197.8 200.97L198 201.24L198.2 200.37L198.5 201.01L198.8 199.78L199 201.22L199.2 200.36L199.5 201.37L199.8 200.91L200 201.55L200.2 200.3L200.5 200.98L200.8 200.43L201 201.24L201.2 200.38L201.5 201.16L201.8 200.51L202 201.17L202.2 200.26L202.5 200.54L202.8 200.11L203 201.37L203.2 199.73L203.5 200.45L203.8 199.92L204 200.58L204.2 199.81L204.5 200.64L204.8 199.58L205 200L205.2 199.71L205.5 199.79L205.8 199.29L206 200.01L206.2 199.34L206.5 200.18L206.8 199.25L207 200.03L207.2 199.52L207.5 200.13L207.8 199.27L208 200.24L208.2 199.52L208.5 200.32L208.8 199.67L209 200.54L209.2 200L209.5 200.63L209.8 199.79L210 201.01L210.2 200.13L210.5 201.3L210.8 198.82L211 201L211.2 200.28L211.5 200.56L211.8 199.61L212 199.97L212.2 199.09L212.5 200.32L212.8 198.84L213 199.91L213.2 198.93L213.5 199.81L213.8 198.88L214 199.46L214.2 199.11L214.5 199.57L214.8 199.02L215 199.36L215.2 198.51L215.5 199.53L215.8 198.87L216 200.38L216.2 198.32L216.5 198.99L216.8 198.24L217 198.9L217.2 197.64L217.5 198.53L217.8 198.31L218 199.13L218.2 197.98L218.5 198.74L218.8 197.96L219 198.88L219.2 198.39L219.5 198.63L219.8 197.88L220 198.83L220.2 197.83L220.5 198.39L220.8 197.52L221 198.43L221.2 198.11L221.5 198.51L221.8 198.04L222 197.92L222.2 198.22L222.5 198.93L222.8 198.23L223 198.72L223.2 197.39L223.5 197.98L223.8 196.08L224 197.83L224.2 196.84L224.5 197.84L224.8 197.6L225 198.08L225.2 195.89L225.5 198.3L225.8 197.53L226 197.76L226.2 196.92L226.5 197.59L226.8 196.61L227 196.34L227.2 197.08L227.5 198.1L227.8 196.71L228 197.91L228.2 197.39L228.5 198.32L228.8 195.65L229 197.93L229.2 197.03L229.5 197.81L229.8 196.92L230 197.88L230.2 196.85L230.5 197.33L230.8 197.98L231 197.6L231.2 197.01L231.5 197.5L231.8 196.69L232 198.09L232.2 197.35L232.5 197.91L232.8 197.2L233 197.75L233.2 196.79L233.5 197.44L233.8 196.25L234 197.07L234.2 196.26L234.5 197.14L234.8 196.71L235 197.72L235.2 196.9L235.5 197.86L235.8 196.94L236 197.29L236.2 194.75L236.5 196.55L236.8 195.63L237 196.54L237.2 195.72L237.5 196.71L237.8 195.86L238 196.81L238.2 196L238.5 196.35L238.8 195.89L239 196.81L239.2 195.72L239.5 196.45L239.8 195.8L240 196.59L240.2 195.57L240.5 196.08L240.8 195.27L241 195.8L241.2 194.85L241.5 195.82L241.8 195.42L242 195.99L242.2 195.44L242.5 196.35L242.8 195.69L243 196.71L243.2 195.41L243.5 195.87L243.8 195.13L244 196.12L244.2 195.55L244.5 196.32L244.8 195.36L245 196.45L245.2 195.56L245.5 195.89L245.8 194.81L246 195.76L246.2 195.5L246.5 196.57L246.8 196.04L247 196.78L247.2 195.54L247.5 196.31L247.8 195.52L248 195.92L248.2 195.37L248.5 196.08L248.8 195.58L249 196.34L249.2 195.05L249.5 195.98L249.8 194.49L250 195.04L250.2 194.3L250.5 195.07L250.8 194.51L251 195.4L251.2 195.1L251.5 195.72L251.8 194.95L252 195.56L252.2 194.96L252.5 195.9L252.8 195.12L253 195.81L253.2 194.96L253.5 195.36L253.8 194.94L254 195.57L254.2 194.36L254.5 196.94L254.8 195.2L255 195.91L255.2 194.56L255.5 195.24L255.8 194.46L256 195.02L256.2 194.3L256.5 194.78L256.8 193.88L257 194.41L257.2 193.58L257.5 194.63L257.8 194.01L258 195.11L258.2 194.49L258.5 195.23L258.8 194.63L259 195.03L259.2 193.71L259.5 194.23L259.8 193.52L260 194.41L260.2 194.01L260.5 194.78L260.8 194.18L261 194.76L261.2 193.79L261.5 195.88L261.8 194.12L262 194.72L262.2 194.1L262.5 194.58L262.8 194.12L263 195.2L263.2 194.01L263.5 194.65L263.8 194.4L264 194.96L264.2 194.32L264.5 194.78L264.8 194.2L265 195.21L265.2 194.01L265.5 194.8L265.8 193.85L266 194.5L266.2 193.53L266.5 194.26L266.8 193.53L267 193.84L267.2 193.52L267.5 194.71L267.8 193.59L268 193.78L268.2 193.34L268.5 194.31L268.8 193.2L269 193.61L269.2 193.44L269.5 194.36L269.8 195L270 194.81L270.2 194.08L270.5 195.02L270.8 194L271 194.01L271.2 192.75L271.5 193.82L271.8 193.21L272 193.82L272.2 193.19L272.5 193.25L272.8 193.11L273 193.56L273.2 192.52L273.5 193.41L273.8 192.56L274 193.28L274.2 192.78L274.5 193.39L274.8 193.02L275 193.78L275.2 192.84L275.5 193.5L275.8 193.15L276 193.65L276.2 192.94L276.5 192.93L276.8 192.78L277 193.42L277.2 192.18L277.5 193.07L277.8 192.25L278 193.39L278.2 192.41L278.5 193.62L278.8 193.36L279 194.08L279.2 193.42L279.5 193.76L279.8 193.22L280 193.61L280.2 192.61L280.5 192L280.8 192.51L281 193.57L281.2 192.9L281.5 192.25L281.8 194.39L282 193.84L282.2 192.92L282.5 193.68L282.8 192.81L283 193.7L283.2 192.72L283.5 193.34L283.8 192.82L284 193.36L284.2 192.86L284.5 193.56L284.8 192.55L285 193.21L285.2 192.87L285.5 193.74L285.8 192.86L286 193.99L286.2 193.54L286.5 194.14L286.8 192.71L287 192.2L287.2 192.26L287.5 192.89L287.8 192.15L288 193.17L288.2 192.43L288.5 193.11L288.8 192.68L289 193.03L289.2 192.25L289.5 193.09L289.8 192.51L290 193.01L290.2 190.62L290.5 192.82L290.8 192.02L291 192.57L291.2 191.71L291.5 192.52L291.8 192.16L292 192.69L292.2 192.32L292.5 193.19L292.8 192.9L293 193.26L293.2 192.07L293.5 193.04L293.8 191.93L294 192.16L294.2 191.16L294.5 192.64L294.8 191.53L295 192.67L295.2 192.2L295.5 192.46L295.8 192.43L296 193.01L296.2 192.48L296.5 192.72L296.8 191.54L297 191.9L297.2 191.28L297.5 191.74L297.8 191.15L298 191.84L298.2 192.23L298.5 192.02L298.8 190.79L299 192.11L299.2 192.43L299.5 192.29L299.8 192.94L300 192.31L300.2 191.85L300.5 192.46L300.8 191.45L301 192.51L301.2 191.68L301.5 192.63L301.8 191.73L302 192.53L302.2 191.63L302.5 192.16L302.8 191.65L303 191.98L303.2 191.35L303.5 191.96L303.8 191.03L304 191.76L304.2 190.69L304.5 191.41L304.8 191.01L305 192L305.2 191.23L305.5 191.9L305.8 191.41L306 192.01L306.2 191.48L306.5 192.41L306.8 191.55L307 192.26L307.2 192.05L307.5 192.62L307.8 191.65L308 192.44L308.2 191.4L308.5 192.01L308.8 190.84L309 191.76L309.2 190.82L309.5 191.55L309.8 190.88L310 192.26L310.2 191.6L310.5 194.03L310.8 191.77L311 192.54L311.2 192.08L311.5 191.05L311.8 192.78L312 191.9L312.2 191.18L312.5 191.57L312.8 190.8L313 191.22L313.2 190.66L313.5 191.5L313.8 191.36L314 191.9L314.2 191.14L314.5 191.99L314.8 190.83L315 191.52L315.2 190.35L315.5 191.29L315.8 190.77L316 191.77L316.2 191.12L316.5 191.53L316.8 191.19L317 191.53L317.2 190.8L317.5 191.2L317.8 190.92L318 191.75L318.2 191.14L318.5 191.62L318.8 190.8L319 191.23L319.2 189.93L319.5 190.76L319.8 189.96L320 191.41L320.2 190.64L320.5 191.74L320.8 191L321 191.23L321.2 190.21L321.5 191.05L321.8 190.15L322 191.18L322.2 190.54L322.5 191.78L322.8 189.45L323 191.02L323.2 190.48L323.5 190.76L323.8 189.91L324 190.42L324.2 189.75L324.5 190.65L324.8 190.06L325 191.04L325.2 190.28L325.5 191.25L325.8 190.73L326 189.87L326.2 190.41L326.5 191.15L326.8 190.26L327 190.98L327.2 190.02L327.5 190.8L327.8 190.32L328 190.47L328.2 190.03L328.5 191.16L328.8 191.56L329 191.4L329.2 190.82L329.5 191.69L329.8 190.32L330 190.73L330.2 189.61L330.5 189.9L330.8 189.12L331 189.71L331.2 188.1L331.5 189.86L331.8 188.96L332 189.75L332.2 189.11L332.5 189.84L332.8 189.44L333 190L333.2 189.41L333.5 190.13L333.8 189.12L334 190.16L334.2 189.48L334.5 190.14L334.8 189.76L335 190.38L335.2 189.62L335.5 189.74L335.8 189.48L336 189.85L336.2 189.54L336.5 190.48L336.8 189.62L337 190.52L337.2 189.42L337.5 190.55L337.8 189.44L338 189.76L338.2 189.09L338.5 190.3L338.8 189.22L339 190.06L339.2 189.13L339.5 189.96L339.8 189.25L340 190.01L340.2 188.63L340.5 189.72L340.8 188.79L341 189.71L341.2 189.4L341.5 190.05L341.8 189.49L342 189.88L342.2 189.57L342.5 190.54L342.8 189.65L343 189.98L343.2 189.37L343.5 189.92L343.8 189.32L344 189.79L344.2 189.19L344.5 189.8L344.8 188.57L345 189.77L345.2 187.89L345.5 189.13L345.8 188.74L346 189.62L346.2 189.29L346.5 190.16L346.8 189.13L347 190.2L347.2 189.26L347.5 190.31L347.8 188.9L348 189.28L348.2 188.68L348.5 189.33L348.8 188.38L349 188.86L349.2 188.79L349.5 189.58L349.8 188.68L350 189.42L350.2 188.85L350.5 189.17L350.8 188.52L351 189.46L351.2 188.59L351.5 189.32L351.8 188.26L352 189.36L352.2 189L352.5 189.34L352.8 188.4L353 189.42L353.2 188.72L353.5 189.2L353.8 188.17L354 189.02L354.2 188.22L354.5 188.98L354.8 187.94L355 188.72L355.2 187.61L355.5 188.37L355.8 187.6L356 188.48L356.2 187.95L356.5 188.93L356.8 188.74L357 188.85L357.2 188.41L357.5 188.61L357.8 188.4L358 188.77L358.2 187.43L358.5 187.92L358.8 187.18L359 187.94L359.2 187.12L359.5 188.29L359.8 187.82L360 188.61L360.2 187.55L360.5 188.22L360.8 187.29L361 187.85L361.2 186.62L361.5 187.64L361.8 185.69L362 187.57L362.2 186.83L362.5 187.63L362.8 186.86L363 187.97L363.2 187.56L363.5 188.25L363.8 187.64L364 188.06L364.2 187.33L364.5 187.78L364.8 186.98L365 187.42L365.2 186.78L365.5 187.88L365.8 186.62L366 187.73L366.2 186.72L366.5 187.38L366.8 186.52L367 187.19L367.2 186.93L367.5 187.07L367.8 186.44L368 186.53L368.2 186.67L368.5 187.24L368.8 186.36L369 187.45L369.2 186.4L369.5 187.09L369.8 186.66L370 187.65L370.2 187.04L370.5 185.92L370.8 186.32L371 186.94L371.2 186.16L371.5 186.73L371.8 185.13L372 187.22L372.2 185.29L372.5 185.58L372.8 184.83L373 186.02L373.2 185.73L373.5 186.13L373.8 185.69L374 187.12L374.2 186.43L374.5 187.06L374.8 185.71L375 186.8L375.2 185.77L375.5 186.46L375.8 185.46L376 186.25L376.2 185.46L376.5 186.36L376.8 185.26L377 186.03L377.2 185.64L377.5 186.69L377.8 185.77L378 186.44L378.2 185.56L378.5 187.1L378.8 185.14L379 185.06L379.2 184.99L379.5 184.89L379.8 184.53L380 185.65L380.2 184.68L380.5 185.27L380.8 184.42L381 185.61L381.2 184.45L381.5 185.35L381.8 184.3L382 185.5L382.2 184.97L382.5 185.23L382.8 184.32L383 185.17L383.2 184.8L383.5 185.29L383.8 184.51L384 185.09L384.2 184.15L384.5 184.87L384.8 184.06L385 184.52L385.2 184.14L385.5 184.98L385.8 183.92L386 184.78L386.2 184L386.5 185.05L386.8 184.56L387 185.44L387.2 185.17L387.5 185.81L387.8 184.7L388 185.78L388.2 184.51L388.5 184.7L388.8 183.78L389 182.76L389.2 183.73L389.5 184.04L389.8 183.82L390 186.08L390.2 183.94L390.5 184.81L390.8 184.08L391 184.46L391.2 184.05L391.5 184.81L391.8 184.06L392 184.67L392.2 183.92L392.5 184.5L392.8 183.51L393 183.38L393.2 182.86L393.5 183.55L393.8 183.05L394 183.95L394.2 183.23L394.5 184.79L394.8 183.5L395 183.89L395.2 182.81L395.5 183.52L395.8 182.69L396 182.95L396.2 182.48L396.5 184.01L396.8 183.06L397 183.58L397.2 183.1L397.5 183.64L397.8 183.46L398 183.56L398.2 182.87L398.5 183.4L398.8 182.61L399 183.47L399.2 182.2L399.5 182.71L399.8 182.06L400 182.69L400.2 181.47L400.5 182.38L400.8 182.15L401 182.81L401.2 180.25L401.5 182.94L401.8 182.3L402 183.25L402.2 182.76L402.5 183.26L402.8 182.17L403 183.08L403.2 181.88L403.5 182.6L403.8 181.89L404 182.71L404.2 182.12L404.5 182.99L404.8 182.21L405 182.87L405.2 182.06L405.5 182.75L405.8 181.8L406 182.68L406.2 181.97L406.5 182.49L406.8 181.82L407 182.42L407.2 181.61L407.5 182.43L407.8 182.08L408 182.97L408.2 182.09L408.5 183.29L408.8 181.33L409 182.99L409.2 182.5L409.5 182.98L409.8 182.54L410 183.16L410.2 182.34L410.5 183.17L410.8 181.91L411 182.53L411.2 182.26L411.5 182.64L411.8 181.94L412 182.47L412.2 181.91L412.5 182.82L412.8 181.67L413 181.68L413.2 181.86L413.5 182.29L413.8 182L414 182.67L414.2 182.07L414.5 183.02L414.8 182.36L415 182.93L415.2 182.18L415.5 183.05L415.8 181.37L416 182.01L416.2 181.35L416.5 182.08L416.8 181.48L417 182.43L417.2 182.13L417.5 182.71L417.8 181.98L418 183.19L418.2 182.12L418.5 182.68L418.8 182.25L419 182.9L419.2 182.79L419.5 182.6L419.8 181.97L420 183.07L420.2 182.25L420.5 183.02L420.8 182.02L421 183.05L421.2 181.93L421.5 182.71L421.8 181.44L422 182.29L422.2 182L422.5 182.76L422.8 181.9L423 182.16L423.2 181.6L423.5 182.38L423.8 181.61L424 182.31L424.2 182.25L424.5 183.06L424.8 182.3L425 183.12L425.2 182.28L425.5 183.14L425.8 182.3L426 183.06L426.2 182.88L426.5 183.09L426.8 182.25L427 182.99L427.2 181.89L427.5 182.83L427.8 181.68L428 183.01L428.2 182.19L428.5 182.8L428.8 182.53L429 183.13L429.2 182.79L429.5 183.41L429.8 182.35L430 183.12L430.2 181.99L430.5 182.37L430.8 181.7L431 182.79L431.2 181.86L431.5 182.75L431.8 181.88L432 182.77L432.2 182.1L432.5 181.54L432.8 181.68L433 182.6L433.2 181.88L433.5 182.54L433.8 181.33L434 181.95L434.2 182.73L434.5 182.28L434.8 181.52L435 182.38L435.2 181.71L435.5 182.44L435.8 181.66L436 182.58L436.2 181.59L436.5 182.76L436.8 182.45L437 183.18L437.2 183.28L437.5 183.09L437.8 183.07L438 182.29L438.2 182.05L438.5 182.72L438.8 181.47L439 182.3L439.2 181.3L439.5 181.53L439.8 181.35L440 182L440.2 181.74L440.5 182.67L440.8 182.02L441 183.17L441.2 182.07L441.5 183.02L441.8 182.23L442 182.13L442.2 181.38L442.5 183.07L442.8 181.01L443 182.1L443.2 181.52L443.5 182.4L443.8 181.77L444 182.51L444.2 182.44L444.5 182.97L444.8 182.12L445 182.96L445.2 182.57L445.5 183.07L445.8 182.91L446 182.31L446.2 181.1L446.5 182.23L446.8 181.05L447 182.06L447.2 181.36L447.5 182.65L447.8 181.86L448 181.93L448.2 181.04L448.5 181.92L448.8 181.41L449 181.97L449.2 180.87L449.5 181.99L449.8 181.32L450 182.03L450.2 181.02L450.5 181.81L450.8 181.39L451 181.58L451.2 181.1L451.5 181.66L451.8 180.87L452 181.41L452.2 180.68L452.5 181.64L452.8 180.75L453 182.05L453.2 180.69L453.5 181.11L453.8 180.4L454 181.34L454.2 180.41L454.5 181.15L454.8 180.68L455 181.49L455.2 180.87L455.5 181.34L455.8 180.44L456 180.7L456.2 179.72L456.5 180.43L456.8 179.83L457 180.78L457.2 180.09L457.5 181.32L457.8 179.95L458 181.04L458.2 180.38L458.5 181.06L458.8 180.71L459 181.19L459.2 180.76L459.5 181.51L459.8 180.86L460 180.73L460.2 180.64L460.5 181.24L460.8 179.8L461 180.23L461.2 179.76L461.5 180.35L461.8 179.24L462 179.57L462.2 179.92L462.5 180.84L462.8 178.99L463 180.78L463.2 179.57L463.5 180.59L463.8 180.1L464 180.52L464.2 179.79L464.5 180.67L464.8 180.09L465 180.37L465.2 179.45L465.5 179.65L465.8 178.72L466 179.34L466.2 178.83L466.5 180.01L466.8 179.52L467 180.53L467.2 180.27L467.5 181.32L467.8 180.31L468 181.13L468.2 180.1L468.5 180.97L468.8 179.76L469 180.38L469.2 179.7L469.5 179.93L469.8 179.26L470 179.73L470.2 179.16L470.5 180.95L470.8 179.7L471 180.89L471.2 180.42L471.5 181.44L471.8 179.28L472 181.42L472.2 180.96L472.5 180.56L472.8 180.64L473 181.16L473.2 179.26L473.5 180.91L473.8 179.54L474 180.28L474.2 179.67L474.5 180.71L474.8 179.93L475 180.91L475.2 180.66L475.5 181.28L475.8 180.86L476 182.21L476.2 181.09L476.5 181.92L476.8 181.14L477 181.61L477.2 181.17L477.5 181.55L477.8 181.01L478 182.45L478.2 182.15L478.5 183L478.8 182.13L479 183.01L479.2 181.7L479.5 182.47L479.8 180.16L480 181.72L480.2 181.56L480.5 182.36L480.8 181.72L481 182.02L481.2 181.39L481.5 182.65L481.8 181.43L482 181.76L482.2 181.25L482.5 181.94L482.8 181.14L483 181.97L483.2 182.72L483.5 182.43L483.8 182.42L484 182.49L484.2 181.8L484.5 182.63L484.8 181.47L485 182.45L485.2 181.48L485.5 182.7L485.8 182.08L486 182.01L486.2 181.6L486.5 182.57L486.8 181.97L487 182.55L487.2 181.29L487.5 182.4L487.8 181.71L488 182.12L488.2 181.37L488.5 182.23L488.8 181.83L489 182.23L489.2 181.31L489.5 181.97L489.8 182.18L490 181.76L490.2 180.92L490.5 181.38L490.8 181.15L491 182.09L491.2 181.37L491.5 182.13L491.8 181.44L492 182.12L492.2 181.25L492.5 181.94L492.8 181.27L493 182.93L493.2 181.44L493.5 182.41L493.8 181.98L494 182.65L494.2 181.78L494.5 182.37L494.8 181.79L495 182.64L495.2 181.64L495.5 182.36L495.8 180.2L496 182.54L496.2 181.56L496.5 182.06L496.8 181.3L497 181.93L497.2 181.15L497.5 181.71L497.8 181.12L498 182.01L498.2 181.46L498.5 182.07L498.8 181.11L499 181.83L499.2 180.7L499.5 181.33L499.8 180.37L500 181.03L500.2 180.46L500.5 181.44L500.8 182.13L501 181.86L501.2 181.2L501.5 181.9L501.8 181.06L502 182.07L502.2 180.49L502.5 181.13L502.8 180L503 181.03L503.2 180.13L503.5 180.67L503.8 180.19L504 180.89L504.2 180.22L504.5 181.27L504.8 180.59L505 181.59L505.2 180.77L505.5 181.5L505.8 180.55L506 181.01L506.2 180.46L506.5 181.11L506.8 180.03L507 182.07L507.2 179.58L507.5 179.34L507.8 179.31L508 179.75L508.2 178.7L508.5 179.42L508.8 179.12L509 179.53L509.2 180.03L509.5 178.91L509.8 179.19L510 178.58L510.2 178.85L510.5 179.89L510.8 178.92L511 180.25L511.2 179.39L511.5 180.45L511.8 180.05L512 180.59L512.2 179.43L512.5 179.75L512.8 179.11L513 179.59L513.2 178.63L513.5 178.97L513.8 178.71L514 179.41L514.2 178.63L514.5 179.24L514.8 178.86L515 179.54L515.2 178.82L515.5 179.7L515.8 179.06L516 179.91L516.2 178.74L516.5 179.34L516.8 178.61L517 180.9L517.2 178.33L517.5 179.17L517.8 177.59L518 179.9L518.2 179.39L518.5 179.51L518.8 178.88L519 179.56L519.2 178.52L519.5 179.15L519.8 178.29L520 179.47L520.2 178.74L520.5 179.5L520.8 178.62L521 179.22L521.2 178.81L521.5 179.4L521.8 178.51L522 179.53L522.2 178.98L522.5 179.85L522.8 178.62L523 179.85L523.2 179.15L523.5 179.83L523.8 178.44L524 179.42L524.2 178.43L524.5 178.85L524.8 176.94L525 178.81L525.2 178.28L525.5 179.03L525.8 176.91L526 179.52L526.2 179L526.5 180.19L526.8 179.73L527 180.68L527.2 179.97L527.5 180.45L527.8 179.77L528 180.61L528.2 179.53L528.5 180.02L528.8 179.11L529 179.97L529.2 179.16L529.5 180.08L529.8 179.42L530 180.01L530.2 179.06L530.5 179.74L530.8 179.1L531 179.66L531.2 179.03L531.5 179.72L531.8 179.38L532 179.48L532.2 178.79L532.5 179.58L532.8 178.61L533 179.67L533.2 179.12L533.5 179.98L533.8 179.07L534 180.29L534.2 179.85L534.5 180.38L534.8 179.66L535 181.58L535.2 179.66L535.5 180.7L535.8 179.94L536 180.83L536.2 180.09L536.5 180.73L536.8 180.08L537 180.1L537.2 180.13L537.5 181.03L537.8 180.18L538 180.51L538.2 179.57L538.5 180.43L538.8 179.51L539 180.25L539.2 179.73L539.5 180.45L539.8 180.07L540 180.73L540.2 180.15L540.5 181.02L540.8 180.59L541 181.06L541.2 180.68L541.5 181.06L541.8 179.98L542 180.66L542.2 180.07L542.5 180.34L542.8 179.52L543 180.36L543.2 179.85L543.5 180.23L543.8 179.41L544 179.04L544.2 180.06L544.5 180.63L544.8 179.74L545 180.18L545.2 178.8L545.5 179.73L545.8 178.39L546 179.28L546.2 178.76L546.5 179.79L546.8 179.56L547 180.69L547.2 180.17L547.5 181.07L547.8 179.74L548 180.01L548.2 179.39L548.5 179.65L548.8 180.46L549 181.14L549.2 179.06L549.5 179.57L549.8 178.5L550 179.46L550.2 178.81L550.5 179.35L550.8 179.34L551 179.69L551.2 180.5L551.5 179.86L551.8 178.52L552 179.49L552.2 178.42L552.5 179.07L552.8 177.95L553 177.92L553.2 178.25L553.5 178.81L553.8 178.04L554 178.99L554.2 179.73L554.5 178.79L554.8 179.31L555 178.58L555.2 177.68L555.5 178.51L555.8 178.06L556 178.79L556.2 177.69L556.5 178.59L556.8 178.08L557 178.86L557.2 177.57L557.5 178.36L557.8 177.91L558 178.41L558.2 177.76L558.5 178.16L558.8 177.76L559 178.86L559.2 178.21L559.5 179.25L559.8 178.97L560 179.38L560.2 180.3L560.5 179.24L560.8 178.35L561 178.8L561.2 177.54L561.5 178.06L561.8 177.74L562 178.4L562.2 177.72L562.5 178.23L562.8 177.75L563 178.58L563.2 177.92L563.5 179.69L563.8 177.99L564 178.54L564.2 177.71L564.5 178.83L564.8 177.47L565 178.78L565.2 177.7L565.5 178.82L565.8 178.36L566 178.63L566.2 178.14L566.5 178.54L566.8 178.27L567 178.82L567.2 178.83L567.5 178.65L567.8 177.44L568 178.65L568.2 177.63L568.5 178.47L568.8 177.33L569 178.24L569.2 177.45L569.5 177.98L569.8 176.95L570 177.72L570.2 177.33L570.5 178.19L570.8 177.69L571 178.19L571.2 177.34L571.5 177.77L571.8 177.41L572 177.88L572.2 177.21L572.5 179.57L572.8 177.65L573 178.69L573.2 177.82L573.5 178.67L573.8 176.49L574 178.19L574.2 177.55L574.5 178.22L574.8 177.94L575 177.45L575.2 177.99L575.5 178.08L575.8 177.96L576 178.61L576.2 177.4L576.5 178.03" stroke="#00f" stroke-width="0.80"/>
<path d="M80.5 228.55L80.8 227.97L81 229.49L81.2 227.79L81.5 228.45L81.8 227.84L82 228.86L82.2 228.35L82.5 228.61L82.8 227.86L83 228.89L83.2 228.43L83.5 229.06L83.8 228.51L84 228.86L84.2 228.1L84.5 228.67L84.8 227.91L85 228.27L85.2 227.77L85.5 227.84L85.8 227.3L86 227.79L86.2 227.35L86.5 228.77L86.8 227.66L87 228.34L87.2 227.49L87.5 227.83L87.8 227.32L88 227.32L88.2 227.76L88.5 228.26L88.8 227.72L89 227.88L89.2 227.35L89.5 227.79L89.8 226.98L90 227.33L90.2 226.99L90.5 229.05L90.8 227.57L91 228.09L91.2 227.56L91.5 228.11L91.8 227.69L92 228.38L92.2 227.85L92.5 228.26L92.8 227.58L93 228.05L93.2 227.23L93.5 227.77L93.8 227.31L94 228.27L94.2 227.15L94.5 217.69L94.8 211.57L95 208.6L95.2 205.36L95.5 203.87L95.8 201.26L96 199.65L96.2 197.56L96.5 196.54L96.8 194.34L97 194.47L97.2 191.08L97.5 190.7L97.8 189.03L98 188.85L98.2 187.27L98.5 186.42L98.8 184.55L99 183.81L99.2 182.1L99.5 181.72L99.8 180.4L100 180.1L100.2 178.85L100.5 178.29L100.8 176.89L101 176.61L101.2 175.46L101.5 175.25L101.8 173.65L102 173.68L102.2 172.24L102.5 172.39L102.8 170.84L103 170.9L103.2 169.42L103.5 169.2L103.8 168.25L104 168.39L104.2 167.25L104.5 167.58L104.8 165.89L105 165.84L105.2 164.56L105.5 164.73L105.8 163.92L106 163.26L106.2 162.09L106.5 162.03L106.8 160.93L107 161.05L107.2 159.67L107.5 159.93L107.8 159.13L108 159.5L108.2 158.79L108.5 158.99L108.8 158.02L109 158.86L109.2 157.91L109.5 158.46L109.8 158.42L110 161.85L110.2 165.67L110.5 170.3L110.8 173.91L111 178.88L111.2 183.69L111.5 188.97L111.8 192.19L112 194.47L112.2 194.51L112.5 196.04L112.8 196.42L113 197.45L113.2 197.8L113.5 198.81L113.8 198.95L114 199.78L114.2 199.28L114.5 200.09L114.8 199.39L115 200.31L115.2 199.74L115.5 200.93L115.8 200.77L116 201.44L116.2 201.38L116.5 202.53L116.8 202.28L117 202.3L117.2 201.91L117.5 202.47L117.8 202.74L118 203.52L118.2 203.21L118.5 203.87L118.8 203.45L119 204.02L119.2 203.77L119.5 204.37L119.8 204.08L120 205.27L120.2 204.71L120.5 205.54L120.8 205.29L121 206.27L121.2 205.91L121.5 206.92L121.8 206.76L122 207.41L122.2 206.89L122.5 207.69L122.8 207.63L123 208.44L123.2 208.17L123.5 208.56L123.8 208.14L124 208.63L124.2 208.48L124.5 209.16L124.8 208.99L125 209.56L125.2 208.75L125.5 209.31L125.8 209.05L126 209.74L126.2 209.29L126.5 209.49L126.8 209.31L127 209.8L127.2 209.72L127.5 210.84L127.8 210.57L128 211.17L128.2 210.32L128.5 211.18L128.8 210.98L129 212.22L129.2 211.49L129.5 212.15L129.8 211.17L130 211.82L130.2 211.52L130.5 212.32L130.8 211.95L131 212.58L131.2 211.96L131.5 212.28L131.8 211.84L132 212.33L132.2 212.11L132.5 212.86L132.8 212.68L133 213.36L133.2 212.7L133.5 213.21L133.8 212.56L134 213.22L134.2 212.84L134.5 213.93L134.8 213.13L135 213.68L135.2 213.24L135.5 213.64L135.8 213.31L136 213.63L136.2 213.14L136.5 214.08L136.8 213.59L137 214.49L137.2 214.18L137.5 214.93L137.8 213.95L138 214.74L138.2 214.33L138.5 215.12L138.8 214.67L139 215.32L139.2 214.77L139.5 215.55L139.8 215L140 216.84L140.2 214.89L140.5 215.52L140.8 214.77L141 216.06L141.2 215.49L141.5 215.94L141.8 215.41L142 216.02L142.2 215.11L142.5 215.89L142.8 215.27L143 215.76L143.2 215.34L143.5 216.17L143.8 216.07L144 216.47L144.2 215.72L144.5 216.17L144.8 216.42L145 218.12L145.2 217.82L145.5 216.99L145.8 216.28L146 216.71L146.2 216.85L146.5 218.1L146.8 217.73L147 217.79L147.2 216.33L147.5 216.79L147.8 216.1L148 216.58L148.2 216.1L148.5 216.45L148.8 216.2L149 216.98L149.2 216.62L149.5 216.92L149.8 216.55L150 217.23L150.2 216.8L150.5 217.47L150.8 216.8L151 217.32L151.2 217.61L151.5 219.14L151.8 218.37L152 217.92L152.2 216.28L152.5 213.72L152.8 203.3L153 197.88L153.2 194.2L153.5 191.77L153.8 188.85L154 186.82L154.2 184.14L154.5 183.02L154.8 181.27L155 180.36L155.2 178.36L155.5 178.08L155.8 176.69L156 176.35L156.2 174.98L156.5 174.41L156.8 173.02L157 172.64L157.2 171.12L157.5 171.34L157.8 170.07L158 170.33L158.2 169.37L158.5 169.36L158.8 168.26L159 168.61L159.2 167.61L159.5 167.18L159.8 165.75L160 165.76L160.2 164.79L160.5 164.86L160.8 163.71L161 163.78L161.2 162.85L161.5 163.4L161.8 162.43L162 162.4L162.2 161.52L162.5 161.97L162.8 160.76L163 161.15L163.2 160.08L163.5 160.53L163.8 160.06L164 160.23L164.2 161.24L164.5 166.01L164.8 170.65L165 176.12L165.2 181.09L165.5 186.92L165.8 190.95L166 193.95L166.2 194.09L166.5 195.36L166.8 195.7L167 197.03L167.2 196.87L167.5 197.58L167.8 197.41L168 198.5L168.2 198.38L168.5 198.88L168.8 198.38L169 199.15L169.2 199.02L169.5 199.42L169.8 198.77L170 199.33L170.2 199.21L170.5 200.27L170.8 200.16L171 201.1L171.2 200.63L171.5 201.71L171.8 201.3L172 202.01L172.2 201.98L172.5 202.91L172.8 202.59L173 203.01L173.2 202.9L173.5 204.13L173.8 203.6L174 203.88L174.2 203.6L174.5 204.4L174.8 204.23L175 204.86L175.2 204.37L175.5 205.03L175.8 204.71L176 205.4L176.2 204.9L176.5 205.8L176.8 205.53L177 206.57L177.2 206.07L177.5 206.65L177.8 206.11L178 206.91L178.2 206.58L178.5 206.92L178.8 206.4L179 207.06L179.2 206.66L179.5 207.31L179.8 207.49L180 208.02L180.2 207.79L180.5 208.37L180.8 207.49L181 208.23L181.2 207.96L181.5 209.19L181.8 208.53L182 209.2L182.2 208.87L182.5 209.42L182.8 209.43L183 208.74L183.2 209.13L183.5 210.03L183.8 208.91L184 209.55L184.2 209.08L184.5 209.75L184.8 208.99L185 209.76L185.2 209.06L185.5 210L185.8 209.44L186 210.27L186.2 209.43L186.5 210.32L186.8 209.77L187 210.48L187.2 209.73L187.5 210.44L187.8 210.1L188 210.05L188.2 210.29L188.5 210.87L188.8 210.4L189 210.74L189.2 210.36L189.5 211.09L189.8 210.78L190 211.27L190.2 210.68L190.5 211.57L190.8 211.55L191 211.41L191.2 210.95L191.5 211.55L191.8 210.91L192 211.19L192.2 211.31L192.5 211.43L192.8 210.97L193 211.48L193.2 211.36L193.5 211.96L193.8 211.4L194 212.3L194.2 211.68L194.5 212.43L194.8 211.88L195 212.51L195.2 211.98L195.5 212.5L195.8 211.73L196 212.58L196.2 211.66L196.5 212.24L196.8 211.68L197 212.19L197.2 212.02L197.5 212.22L197.8 211.98L198 212.25L198.2 212.15L198.5 212.56L198.8 212.25L199 213.08L199.2 212.47L199.5 212.62L199.8 212.21L200 213.22L200.2 212.68L200.5 213.46L200.8 212.19L201 213.24L201.2 212.26L201.5 212.94L201.8 212.42L202 213.19L202.2 212.89L202.5 213.28L202.8 212.82L203 213.41L203.2 212.88L203.5 213.73L203.8 213.31L204 214L204.2 213L204.5 213.78L204.8 212.74L205 212.84L205.2 212.79L205.5 213.63L205.8 212.69L206 213.43L206.2 213.03L206.5 213.76L206.8 213.31L207 213.6L207.2 213.11L207.5 214.44L207.8 212.86L208 213.45L208.2 213.31L208.5 214.08L208.8 213.27L209 213.88L209.2 213.1L209.5 213.83L209.8 213.04L210 213.54L210.2 212.99L210.5 213.3L210.8 212.58L211 213.26L211.2 212.82L211.5 214.07L211.8 212.7L212 213.87L212.2 213.33L212.5 213.96L212.8 213.18L213 213.88L213.2 213.64L213.5 214.07L213.8 213.36L214 213.7L214.2 213.53L214.5 213.85L214.8 213.26L215 213.8L215.2 213.39L215.5 214.2L215.8 213.83L216 214.42L216.2 214.05L216.5 214.01L216.8 213.53L217 213.97L217.2 213.12L217.5 213.54L217.8 213.1L218 213.77L218.2 212.98L218.5 213.39L218.8 212.8L219 213.63L219.2 213.04L219.5 208.97L219.8 201.49L220 195.41L220.2 190.79L220.5 187.14L220.8 182.66L221 179.7L221.2 176.38L221.5 174.87L221.8 173.2L222 172.65L222.2 171.3L222.5 170.91L222.8 169.53L223 168.67L223.2 167.34L223.5 167.57L223.8 166.79L224 166.99L224.2 165.52L224.5 165.12L224.8 163.86L225 163.59L225.2 162.07L225.5 161.86L225.8 159.87L226 161.25L226.2 161.23L226.5 159.98L226.8 158.9L227 159.14L227.2 158.03L227.5 158.02L227.8 156.95L228 157.1L228.2 155.9L228.5 155.54L228.8 154.34L229 154.39L229.2 152.81L229.5 153.08L229.8 151.49L230 152.54L230.2 152.05L230.5 152.34L230.8 151.55L231 151.73L231.2 150.91L231.5 151.46L231.8 151.3L232 153.36L232.2 155.78L232.5 159.57L232.8 162.56L233 165.99L233.2 167.87L233.5 171.55L233.8 174.06L234 177.77L234.2 179.53L234.5 182.67L234.8 183.98L235 185.83L235.2 186.09L235.5 187.54L235.8 187.33L236 188.56L236.2 189.64L236.5 190.07L236.8 188.9L237 188.7L237.2 188.3L237.5 190.37L237.8 191.76L238 192.71L238.2 192.62L238.5 193.37L238.8 193.09L239 193.99L239.2 193.48L239.5 194.34L239.8 194.36L240 195.37L240.2 195.17L240.5 195.95L240.8 195.13L241 195.49L241.2 194.95L241.5 195.84L241.8 195.27L242 195.79L242.2 195.92L242.5 196.93L242.8 196.93L243 197.64L243.2 197.19L243.5 197.83L243.8 197.33L244 198.36L244.2 198.3L244.5 199.25L244.8 199.05L245 199.32L245.2 198.49L245.5 198.99L245.8 198.29L246 199.16L246.2 198.67L246.5 198.86L246.8 198.76L247 199.36L247.2 199.62L247.5 200.11L247.8 199.55L248 200.45L248.2 200.23L248.5 200.78L248.8 200.08L249 200.45L249.2 199.86L249.5 200.83L249.8 200.53L250 201.41L250.2 200.83L250.5 201.48L250.8 201.38L251 202.22L251.2 201.77L251.5 202.51L251.8 203.04L252 202.54L252.2 202.14L252.5 202.63L252.8 202L253 202.5L253.2 202.11L253.5 202.83L253.8 202.15L254 202.85L254.2 202.18L254.5 203.21L254.8 202.41L255 202.98L255.2 202.17L255.5 202.9L255.8 202.33L256 202.98L256.2 202.29L256.5 202.98L256.8 202.58L257 203.45L257.2 203.06L257.5 203.8L257.8 202.12L258 203.57L258.2 202.81L258.5 203.48L258.8 203.04L259 203.86L259.2 203.46L259.5 204.02L259.8 203.47L260 203.8L260.2 203.43L260.5 204.28L260.8 203.74L261 204.03L261.2 203.67L261.5 204.51L261.8 204.01L262 204.45L262.2 203.99L262.5 205.09L262.8 204.6L263 204.15L263.2 204.31L263.5 205.05L263.8 204.57L264 204.62L264.2 203.96L264.5 204.71L264.8 204.22L265 204.79L265.2 203.94L265.5 205.01L265.8 204.27L266 204.88L266.2 204.3L266.5 205.11L266.8 204.87L267 205.35L267.2 205.16L267.5 205.61L267.8 204.59L268 204.9L268.2 204.36L268.5 205.27L268.8 205.15L269 205.86L269.2 205.32L269.5 205.68L269.8 205.31L270 205.74L270.2 205.03L270.5 205.73L270.8 204.91L271 205.65L271.2 205.1L271.5 205.85L271.8 205.21L272 205.93L272.2 205.53L272.5 205.8L272.8 205.1L273 205.93L273.2 205.95L273.5 206.01L273.8 205.03L274 205.78L274.2 205.55L274.5 206.12L274.8 205.16L275 205.84L275.2 205.08L275.5 205.61L275.8 205.12L276 206.05L276.2 205.51L276.5 206.19L276.8 205.84L277 206.46L277.2 205.91L277.5 206.25L277.8 206.08L278 206.37L278.2 205.75L278.5 206.72L278.8 205.97L279 206.37L279.2 205.16L279.5 206.42L279.8 205.57L280 206.35L280.2 205.29L280.5 206.03L280.8 206.08L281 206.49L281.2 205.99L281.5 206.84L281.8 206.43L282 207.03L282.2 205.68L282.5 206.75L282.8 206.06L283 205.97L283.2 205.63L283.5 206.31L283.8 206.04L284 206.53L284.2 206.97L284.5 206.56L284.8 205.8L285 206.52L285.2 205.85L285.5 206.3L285.8 205.43L286 205.79L286.2 205.37L286.5 206.24L286.8 206.14L287 206.83L287.2 205.78L287.5 206.65L287.8 206.19L288 206.92L288.2 206.51L288.5 206.58L288.8 205.84L289 206.28L289.2 205.59L289.5 206.17L289.8 206.02L290 206.63L290.2 206.4L290.5 206.77L290.8 206.54L291 206.97L291.2 206.53L291.5 206.25L291.8 200.96L292 194.86L292.2 188.87L292.5 184.31L292.8 179.33L293 176.56L293.2 173.62L293.5 172.07L293.8 169.06L294 167.76L294.2 165.44L294.5 164.67L294.8 162.89L295 162.22L295.2 159.47L295.5 160.13L295.8 158.36L296 158.02L296.2 156.26L296.5 156.31L296.8 154.62L297 155.31L297.2 153.9L297.5 153.94L297.8 153.13L298 152.97L298.2 152.09L298.5 152.45L298.8 151L299 150.55L299.2 149.32L299.5 149.29L299.8 147.88L300 148.01L300.2 147.35L300.5 148.09L300.8 147.18L301 147.26L301.2 146.23L301.5 146.02L301.8 144.71L302 144.9L302.2 144.35L302.5 144.67L302.8 143.64L303 143.99L303.2 143.23L303.5 143.77L303.8 142.37L304 144.1L304.2 144.25L304.5 147.27L304.8 150.16L305 154.66L305.2 157.93L305.5 161.51L305.8 163.84L306 166.7L306.2 168.82L306.5 171.62L306.8 173.19L307 175.56L307.2 176.6L307.5 178.54L307.8 179.41L308 180.67L308.2 180.92L308.5 182.4L308.8 182.54L309 184.09L309.2 184.12L309.5 185.22L309.8 184.8L310 185.57L310.2 185.11L310.5 186.17L310.8 186.05L311 186.76L311.2 186.41L311.5 186.91L311.8 187.78L312 187.79L312.2 187.59L312.5 188.1L312.8 188.1L313 188.78L313.2 188.54L313.5 188.88L313.8 189.36L314 189.99L314.2 189.72L314.5 190.21L314.8 189.9L315 190.54L315.2 190.69L315.5 191.48L315.8 191L316 191.33L316.2 191.24L316.5 192.16L316.8 191.85L317 192.58L317.2 192.2L317.5 192.71L317.8 191.7L318 192.08L318.2 191.91L318.5 193.01L318.8 192.36L319 193.21L319.2 192.88L319.5 193.3L319.8 193.18L320 193.73L320.2 193.52L320.5 195.08L320.8 193.86L321 194.59L321.2 193.89L321.5 194.59L321.8 194.54L322 197.21L322.2 198.45L322.5 199.17L322.8 197.44L323 195.21L323.2 194.41L323.5 195.36L323.8 195.04L324 195.1L324.2 194.41L324.5 194.93L324.8 194.74L325 195.68L325.2 195.33L325.5 196.01L325.8 195.33L326 195.57L326.2 195.09L326.5 195.74L326.8 195.47L327 196.09L327.2 196.05L327.5 196.67L327.8 196.2L328 196.55L328.2 195.94L328.5 196.67L328.8 196.49L329 197.07L329.2 196.37L329.5 196.37L329.8 196.19L330 196.87L330.2 196.03L330.5 196.56L330.8 196.34L331 197.03L331.2 196.06L331.5 196.98L331.8 197.01L332 197.58L332.2 197.02L332.5 197.62L332.8 197L333 196.91L333.2 197L333.5 196.86L333.8 197.06L334 197.7L334.2 197.53L334.5 198.73L334.8 197.16L335 198.19L335.2 197.66L335.5 198.21L335.8 197.56L336 198.29L336.2 197.58L336.5 198.14L336.8 197.77L337 198.15L337.2 197.56L337.5 197.9L337.8 197.24L338 197.77L338.2 197.25L338.5 197.99L338.8 197.73L339 198.18L339.2 198.57L339.5 198.72L339.8 198.26L340 198.82L340.2 197.88L340.5 198.74L340.8 197.69L341 198.54L341.2 197.98L341.5 198.65L341.8 198.25L342 199.01L342.2 198.11L342.5 199.44L342.8 198.79L343 199.11L343.2 198.39L343.5 199.04L343.8 198.39L344 198.92L344.2 198.48L344.5 199.43L344.8 200.11L345 199.19L345.2 199.05L345.5 199.55L345.8 199.17L346 199.23L346.2 198.78L346.5 199.5L346.8 199.68L347 198.05L347.2 193.27L347.5 188.27L347.8 182.61L348 179.43L348.2 174.87L348.5 172.04L348.8 168.18L349 166.6L349.2 164.28L349.5 163.48L349.8 161.03L350 160.29L350.2 158.68L350.5 158L350.8 156.15L351 155.66L351.2 154.16L351.5 154.21L351.8 152.78L352 152.68L352.2 151.64L352.5 151.2L352.8 149.74L353 149.47L353.2 148.07L353.5 148.03L353.8 146.78L354 146.91L354.2 146L354.5 146.06L354.8 145.21L355 145.07L355.2 144.14L355.5 143.85L355.8 143.12L356 142.84L356.2 142.74L356.5 142.07L356.8 141.1L357 141.31L357.2 140.67L357.5 140.69L357.8 139.85L358 139.62L358.2 139.21L358.5 139.57L358.8 138.71L359 138.56L359.2 137.73L359.5 138.14L359.8 137.78L360 138.17L360.2 140.35L360.5 147.28L360.8 154.46L361 160.46L361.2 162.7L361.5 165.76L361.8 167.21L362 169.49L362.2 171.04L362.5 172.83L362.8 173.39L363 175.56L363.2 174.35L363.5 176.25L363.8 176.41L364 177.56L364.2 177.83L364.5 178.95L364.8 178.93L365 179.69L365.2 179.12L365.5 180.03L365.8 178.38L366 180.11L366.2 179.88L366.5 179.95L366.8 180.94L367 181.32L367.2 181.5L367.5 182.46L367.8 181.04L368 182.75L368.2 182.34L368.5 183.37L368.8 182.7L369 183.15L369.2 182.95L369.5 184.23L369.8 183.29L370 184.17L370.2 183.71L370.5 184.65L370.8 184.46L371 185.11L371.2 184.91L371.5 185.16L371.8 184.76L372 185.36L372.2 184.96L372.5 185.63L372.8 185.09L373 185.86L373.2 185.22L373.5 186.32L373.8 186.39L374 186.87L374.2 186.13L374.5 186.52L374.8 186.24L375 187.01L375.2 186.42L375.5 187.07L375.8 186.96L376 187.67L376.2 186.66L376.5 187.43L376.8 187.03L377 187.6L377.2 187.24L377.5 187.63L377.8 186.98L378 187.84L378.2 187.55L378.5 188.66L378.8 188.95L379 188.6L379.2 188.39L379.5 189.02L379.8 188.13L380 188.62L380.2 188.01L380.5 189.05L380.8 188.51L381 189.3L381.2 188.93L381.5 189.77L381.8 189.16L382 189.55L382.2 188.98L382.5 188.31L382.8 189.13L383 189.72L383.2 188.36L383.5 189.57L383.8 189.17L384 189.83L384.2 189.62L384.5 189.49L384.8 189.45L385 190.22L385.2 189.68L385.5 190.16L385.8 189.63L386 190.05L386.2 189.63L386.5 190.43L386.8 190.19L387 191.01L387.2 190.57L387.5 191.44L387.8 191.18L388 191.57L388.2 190.63L388.5 190.13L388.8 190.7L389 191.43L389.2 190.97L389.5 191.83L389.8 191.76L390 191.95L390.2 191.37L390.5 191.57L390.8 190.68L391 192.17L391.2 191.5L391.5 192.11L391.8 190.96L392 192.26L392.2 191.28L392.5 192.14L392.8 191.69L393 192.13L393.2 191.97L393.5 192.32L393.8 191.66L394 192.13L394.2 191.69L394.5 192.36L394.8 191.98L395 192.54L395.2 192.2L395.5 192.73L395.8 192.45L396 192.44L396.2 191.61L396.5 189.98L396.8 183.98L397 179.03L397.2 174.34L397.5 171.38L397.8 167.32L398 164.69L398.2 161.39L398.5 159.78L398.8 157.05L399 156.03L399.2 153.99L399.5 152.99L399.8 151.33L400 150.3L400.2 147.9L400.5 148.43L400.8 146.9L401 146.01L401.2 144.7L401.5 144.39L401.8 143.35L402 142.63L402.2 141.26L402.5 141.19L402.8 140.29L403 140.4L403.2 138.99L403.5 139.04L403.8 138.03L404 137.66L404.2 136.69L404.5 137.63L404.8 135.4L405 135.31L405.2 134.06L405.5 134.44L405.8 133.47L406 133.54L406.2 132.79L406.5 134.23L406.8 132.39L407 132.83L407.2 132.61L407.5 134.97L407.8 137.36L408 141.73L408.2 144.89L408.5 149.73L408.8 152.77L409 156.32L409.2 158.02L409.5 161.73L409.8 163.93L410 166.87L410.2 168.71L410.5 169.35L410.8 169.76L411 171.06L411.2 171.26L411.5 171.97L411.8 173.09L412 173.33L412.2 173.66L412.5 174.89L412.8 174.15L413 174.75L413.2 174.36L413.5 175.31L413.8 175.42L414 175.7L414.2 175.19L414.5 175.83L414.8 175.93L415 177.02L415.2 176.89L415.5 178.06L415.8 178.22L416 179.42L416.2 180.32L416.5 180.41L416.8 178.83L417 179.31L417.2 179.31L417.5 179.72L417.8 179.51L418 180.29L418.2 179.95L418.5 180.76L418.8 179.98L419 180.72L419.2 180.29L419.5 181.36L419.8 181.02L420 182.22L420.2 181.64L420.5 182.46L420.8 181.71L421 182.77L421.2 181.97L421.5 182.68L421.8 181.35L422 183.12L422.2 182.53L422.5 183.28L422.8 182.91L423 183.9L423.2 183.6L423.5 184.31L423.8 183.8L424 183.79L424.2 183.22L424.5 183.87L424.8 183.76L425 184.68L425.2 184.54L425.5 185.28L425.8 184.71L426 185.52L426.2 185.18L426.5 185.94L426.8 186.62L427 185.89L427.2 185.43L427.5 185.85L427.8 185.95L428 186.68L428.2 186.23L428.5 186.72L428.8 186.48L429 187.11L429.2 186.59L429.5 186.89L429.8 187.15L430 186.68L430.2 186.44L430.5 186.94L430.8 188.25L431 190.04L431.2 189.58L431.5 188.79L431.8 187.3L432 187.83L432.2 187.51L432.5 187.86L432.8 187.76L433 187.93L433.2 187.46L433.5 187.73L433.8 187.23L434 189.03L434.2 187.69L434.5 188.57L434.8 187.09L435 188.43L435.2 187.01L435.5 188.55L435.8 187.87L436 188.41L436.2 187.48L436.5 187.79L436.8 187.72L437 188.23L437.2 187.78L437.5 188.87L437.8 188.63L438 189.01L438.2 188.52L438.5 189.07L438.8 188.36L439 189.02L439.2 189.26L439.5 190.24L439.8 189.53L440 190.52L440.2 188.54L440.5 188.91L440.8 188.09L441 188.87L441.2 188.08L441.5 188.99L441.8 188.42L442 189.32L442.2 188.84L442.5 189.59L442.8 189.09L443 189.19L443.2 188.7L443.5 189.11L443.8 189.09L444 189.87L444.2 189.75L444.5 190.41L444.8 189.57L445 189.55L445.2 189.6L445.5 190.33L445.8 189.85L446 190.31L446.2 189.9L446.5 190.43L446.8 189.75L447 190.13L447.2 189.71L447.5 190.21L447.8 190.65L448 191.46L448.2 191.05L448.5 191L448.8 189.75L449 190.2L449.2 189.18L449.5 189.6L449.8 183.88L450 177.22L450.2 170.62L450.5 165.99L450.8 161.84L451 158.61L451.2 156.37L451.5 154.41L451.8 151.59L452 150.25L452.2 148.12L452.5 147.21L452.8 146.09L453 145.33L453.2 144.05L453.5 143.44L453.8 141.98L454 141.47L454.2 140.11L454.5 139.73L454.8 138.4L455 138.34L455.2 137.38L455.5 137.03L455.8 135.76L456 135.96L456.2 135.99L456.5 135.35L456.8 134.17L457 134.4L457.2 133.56L457.5 133.72L457.8 132.44L458 132.64L458.2 131.55L458.5 131.75L458.8 130.69L459 130.7L459.2 129.83L459.5 129.69L459.8 128.78L460 128.87L460.2 128.34L460.5 128.75L460.8 128.09L461 128.66L461.2 127.95L461.5 128.34L461.8 127.22L462 128.02L462.2 128.91L462.5 132.85L462.8 137.63L463 143.21L463.2 147.78L463.5 151.31L463.8 153.92L464 157.18L464.2 159.22L464.5 161.92L464.8 162.75L465 164.19L465.2 164.46L465.5 165.68L465.8 166.16L466 167.53L466.2 167.61L466.5 168.66L466.8 168.48L467 169.73L467.2 169.42L467.5 170.04L467.8 169.77L468 170.58L468.2 170.78L468.5 171.34L468.8 170.82L469 171.75L469.2 171.66L469.5 172.74L469.8 172.32L470 173.17L470.2 172.86L470.5 173.75L470.8 173.21L471 174.08L471.2 173.88L471.5 174.65L471.8 174.37L472 175.19L472.2 174.77L472.5 175.77L472.8 175.33L473 176.04L473.2 175.52L473.5 176.5L473.8 176.83L474 177.62L474.2 176.96L474.5 177.07L474.8 176.97L475 178.25L475.2 177.91L475.5 178.56L475.8 178.29L476 178.93L476.2 178.78L476.5 179.6L476.8 178.98L477 179.83L477.2 179.39L477.5 180.07L477.8 179.63L478 180.17L478.2 180.09L478.5 180.46L478.8 180.22L479 180.91L479.2 180.44L479.5 180.9L479.8 180.57L480 182.68L480.2 181.47L480.5 182L480.8 181.52L481 182.29L481.2 181.6L481.5 182.69L481.8 182.33L482 182.95L482.2 182.78L482.5 183.11L482.8 182.67L483 183.25L483.2 182.85L483.5 183.59L483.8 183.08L484 183.83L484.2 183.48L484.5 183.83L484.8 183.28L485 184.01L485.2 183.45L485.5 184.2L485.8 184.01L486 184.31L486.2 183.75L486.5 184.35L486.8 183.84L487 184.45L487.2 184.06L487.5 184.33L487.8 184.09L488 185.23L488.2 185.09L488.5 185.81L488.8 184.95L489 185.54L489.2 184.92L489.5 184.23L489.8 184.62L490 185.49L490.2 185.32L490.5 185.61L490.8 186.23L491 185.51L491.2 185.47L491.5 186.01L491.8 185.52L492 186.19L492.2 185.85L492.5 186.63L492.8 185.86L493 186.21L493.2 186.52L493.5 187.04L493.8 186.61L494 187.41L494.2 186.6L494.5 187.25L494.8 186.44L495 186.17L495.2 186.34L495.5 186.77L495.8 186.14L496 186.72L496.2 186.28L496.5 186.79L496.8 186.21L497 186.68L497.2 186.38L497.5 186.72L497.8 182.54L498 177.55L498.2 170.6L498.5 166.57L498.8 161.45L499 157.61L499.2 153.66L499.5 151.03L499.8 148.61L500 147.2L500.2 145.42L500.5 144.45L500.8 142.42L501 141.93L501.2 140.19L501.5 140.05L501.8 138.64L502 137.87L502.2 137.05L502.5 136.74L502.8 136.09L503 135.78L503.2 134.31L503.5 133.94L503.8 132.64L504 132.67L504.2 131.5L504.5 131.46L504.8 130.49L505 131.07L505.2 129.95L505.5 130.08L505.8 128.84L506 129.35L506.2 128.13L506.5 127.43L506.8 127.2L507 126.47L507.2 126.8L507.5 126.63L507.8 125.74L508 125.93L508.2 125.2L508.5 126.18L508.8 127.69L509 133.24L509.2 137.57L509.5 144.04L509.8 147.43L510 151.93L510.2 153.94L510.5 156.9L510.8 158.65L511 160.77L511.2 161.75L511.5 163.61L511.8 164.27L512 164.69L512.2 165.47L512.5 166.71L512.8 165.74L513 167.14L513.2 166.86L513.5 167.95L513.8 167.63L514 168.48L514.2 168.44L514.5 169.06L514.8 169.03L515 169.74L515.2 169.79L515.5 170.76L515.8 171.23L516 171.39L516.2 170.8L516.5 171.04L516.8 170.78L517 171.48L517.2 171.15L517.5 171.78L517.8 171.65L518 172.35L518.2 171.98L518.5 172.76L518.8 172.7L519 172.96L519.2 172.62L519.5 173.21L519.8 173.36L520 173.71L520.2 174.48L520.5 174.26L520.8 174.53L521 174.87L521.2 174.36L521.5 175.33L521.8 175.13L522 176.9L522.2 175.2L522.5 175.97L522.8 175.47L523 176.5L523.2 176.29L523.5 177L523.8 176.66L524 176.85L524.2 176.77L524.5 177.42L524.8 177.29L525 177.57L525.2 177.21L525.5 178.36L525.8 177.71L526 178.61L526.2 177.88L526.5 178.51L526.8 178.09L527 178.95L527.2 178.48L527.5 178.87L527.8 178.59L528 179.38L528.2 178.87L528.5 179.77L528.8 179.17L529 180.21L529.2 179.77L529.5 180.5L529.8 179.98L530 180.22L530.2 179.71L530.5 180.14L530.8 180.16L531 180.83L531.2 180.5L531.5 180.46L531.8 180.04L532 181.7L532.2 180.1L532.5 180.93L532.8 180.91L533 181.75L533.2 180.98L533.5 181.32L533.8 180.93L534 181.62L534.2 180.89L534.5 181.54L534.8 181.37L535 182.17L535.2 181.55L535.5 182.31L535.8 181.51L536 182.46L536.2 181.83L536.5 183.22L536.8 182.72L537 183.32L537.2 183.5L537.5 183.34L537.8 182.64L538 183.29L538.2 182.38L538.5 183.29L538.8 182.65L539 183.59L539.2 182.94L539.5 184L539.8 182.75L540 183.79L540.2 183.11L540.5 182.69L540.8 182.97L541 183.86L541.2 183.34L541.5 183.9L541.8 183.31L542 184.17L542.2 183.35L542.5 183.88L542.8 183.33L543 183.37L543.2 183.36L543.5 184.31L543.8 183.83L544 184.66L544.2 183.89L544.5 183.39L544.8 184.14L545 184.79L545.2 184.25L545.5 185.05L545.8 184.56L546 185.71L546.2 185.37L546.5 185.71L546.8 185.04L547 185.65L547.2 185.98L547.5 185.77L547.8 185.48L548 186.08L548.2 185.37L548.5 186.2L548.8 185.6L549 186.34L549.2 185.04L549.5 184.79L549.8 185.38L550 185L550.2 180.15L550.5 175.78L550.8 169.85L551 165.69L551.2 161.31L551.5 157.89L551.8 153.64L552 151.26L552.2 148.07L552.5 146.6L552.8 144.5L553 143.84L553.2 141.65L553.5 140.67L553.8 138.94L554 138.36L554.2 137.18L554.5 136.96L554.8 135.61L555 135.37L555.2 133.16L555.5 133.57L555.8 132.11L556 132.35L556.2 129.76L556.5 130.06L556.8 128.81L557 128.76L557.2 128.26L557.5 128.26L557.8 127.27L558 127.06L558.2 125.8L558.5 125.57L558.8 124.16L559 124.24L559.2 123.03L559.5 122.86L559.8 121.81L560 122.63L560.2 121.6L560.5 121.8L560.8 120.68L561 121.01L561.2 120.39L561.5 121.4L561.8 122.82L562 127.09L562.2 131.66L562.5 137.66L562.8 142.59L563 146.6L563.2 149.3L563.5 152.31L563.8 154.94L564 157.34L564.2 157.94L564.5 159.94L564.8 160.16L565 162.61L565.2 161.37L565.5 162.84L565.8 163.01L566 163.74L566.2 163.54L566.5 164.32L566.8 164.16L567 164.66L567.2 164.63L567.5 165.67L567.8 165.5L568 165.94L568.2 165.84L568.5 166.79L568.8 166.38L569 166.82L569.2 167.06L569.5 167.84L569.8 167.74L570 168.28L570.2 167.9L570.5 168.11L570.8 168.49L571 169.54L571.2 169.05L571.5 169.58L571.8 169.37L572 170.37L572.2 170.41L572.5 170.77L572.8 170.12L573 170.89L573.2 170.69L573.5 171.7L573.8 171.91L574 172.43L574.2 171.93L574.5 172.24L574.8 171.94L575 172.48L575.2 172.01L575.5 172.27L575.8 172.24L576 173.14L576.2 172.69L576.5 173.31" stroke="#f00" stroke-width="0.80"/>
<path d="M80.5 255.38L80.8 255.26L81 255.7L81.2 255.68L81.5 255.69L81.8 254.58L82 255.11L82.2 253.99L82.5 255.16L82.8 254.75L83 255.13L83.2 254.2L83.5 255.06L83.8 254.96L84 255.54L84.2 254L84.5 254.25L84.8 253.58L85 254.68L85.2 253.78L85.5 254.81L85.8 253.67L86 254.18L86.2 253.39L86.5 254.54L86.8 253.68L87 254.07L87.2 253.83L87.5 254.66L87.8 254.08L88 254.12L88.2 253.5L88.5 253.93L88.8 252.54L89 253.32L89.2 252.05L89.5 252.81L89.8 251.88L90 252.06L90.2 251.21L90.5 251.89L90.8 251.14L91 250.82L91.2 249.88L91.5 249.74L91.8 250.11L92 250.8L92.2 249.96L92.5 250.56L92.8 250.69L93 251.38L93.2 250.96L93.5 252.13L93.8 251.92L94 252.79L94.2 252.84L94.5 253.6L94.8 253.05L95 253.61L95.2 253.45L95.5 253.96L95.8 253.89L96 254.6L96.2 253.96L96.5 254.96L96.8 254.24L97 255.64L97.2 254.59L97.5 255.48L97.8 254.75L98 255.3L98.2 255.2L98.5 255.94L98.8 253.88L99 255.34L99.2 254.73L99.5 255.55L99.8 256.31L100 256.41L100.2 255.49L100.5 255.89L100.8 256.06L101 256.65L101.2 255.66L101.5 255.71L101.8 255.43L102 256.12L102.2 255L102.5 255.91L102.8 255.78L103 255.96L103.2 255.04L103.5 255.57L103.8 255.45L104 256.19L104.2 254.8L104.5 254.53L104.8 253.92L105 254.21L105.2 255.15L105.5 255.68L105.8 255.7L106 254.7L106.2 254.09L106.5 254.19L106.8 253.64L107 253.84L107.2 253.11L107.5 253.95L107.8 253.52L108 254.49L108.2 254L108.5 254.65L108.8 253.35L109 253.25L109.2 252.88L109.5 253.2L109.8 252.65L110 253.15L110.2 252.48L110.5 252.81L110.8 251.91L111 252.41L111.2 251.85L111.5 252.71L111.8 251.82L112 251.66L112.2 250.91L112.5 252.17L112.8 252.37L113 252.22L113.2 251.42L113.5 251.51L113.8 251.12L114 251.87L114.2 252.19L114.5 252.88L114.8 252.33L115 252.93L115.2 252.36L115.5 253.42L115.8 252.67L116 252.58L116.2 251.13L116.5 252.14L116.8 251.29L117 252.49L117.2 251.46L117.5 252.2L117.8 250.94L118 251.58L118.2 250.8L118.5 251.34L118.8 251.22L119 251.2L119.2 250.56L119.5 251.35L119.8 250.97L120 251.63L120.2 251.44L120.5 252.86L120.8 251.86L121 252.87L121.2 252.55L121.5 253.27L121.8 252L122 252.62L122.2 252.15L122.5 253.74L122.8 251.46L123 253.1L123.2 252.68L123.5 253.73L123.8 253L124 253.4L124.2 252.84L124.5 253.26L124.8 253.04L125 252.91L125.2 251.8L125.5 252.5L125.8 251.72L126 252.18L126.2 252.2L126.5 252.75L126.8 252.7L127 252.07L127.2 251.99L127.5 252.54L127.8 252.07L128 252.64L128.2 251.86L128.5 252.76L128.8 252.04L129 252.97L129.2 252.62L129.5 253.06L129.8 252.54L130 252.52L130.2 251.66L130.5 251.8L130.8 251.44L131 251.61L131.2 250.69L131.5 250.96L131.8 250.47L132 250.93L132.2 250.65L132.5 251.11L132.8 251.09L133 251.12L133.2 250.4L133.5 250.87L133.8 250.24L134 251.33L134.2 249.89L134.5 251.07L134.8 249.42L135 250.2L135.2 249.52L135.5 250.47L135.8 249.92L136 250.67L136.2 248.75L136.5 249.94L136.8 248.64L137 249.37L137.2 248.9L137.5 249.98L137.8 249.2L138 250.32L138.2 249.48L138.5 250.6L138.8 250.19L139 250.79L139.2 250.2L139.5 250.89L139.8 250.05L140 250.8L140.2 250.03L140.5 251L140.8 250.83L141 251.87L141.2 251.27L141.5 252.57L141.8 252.03L142 252.9L142.2 252.54L142.5 253.15L142.8 252.4L143 253.2L143.2 252.21L143.5 251.89L143.8 251.4L144 252.27L144.2 251.81L144.5 252.83L144.8 252.23L145 253.54L145.2 252.93L145.5 254.1L145.8 253.65L146 254.36L146.2 253.83L146.5 254.36L146.8 252.62L147 255.05L147.2 253.83L147.5 254.47L147.8 254.41L148 256L148.2 255.69L148.5 256.18L148.8 255.45L149 255.9L149.2 255.69L149.5 256L149.8 254.67L150 254.32L150.2 253.16L150.5 254.12L150.8 253.6L151 254.54L151.2 253.07L151.5 254.48L151.8 253.09L152 253.82L152.2 252.53L152.5 252.39L152.8 252.22L153 253.05L153.2 252.69L153.5 253.56L153.8 252.82L154 254.32L154.2 253.21L154.5 253.29L154.8 252.32L155 253.01L155.2 252.36L155.5 252.84L155.8 252.4L156 252.44L156.2 252.2L156.5 252.07L156.8 252L157 252.62L157.2 252.67L157.5 253.08L157.8 252.48L158 253.62L158.2 252.22L158.5 253.3L158.8 252.19L159 253.29L159.2 252.5L159.5 253.03L159.8 252.59L160 253.25L160.2 252.15L160.5 252.56L160.8 251.7L161 252.45L161.2 252.27L161.5 252.86L161.8 251.97L162 252.87L162.2 252.02L162.5 253.11L162.8 252.2L163 252.93L163.2 251.74L163.5 253.21L163.8 251.4L164 251.93L164.2 251.37L164.5 252.05L164.8 251.51L165 252.06L165.2 251.72L165.5 252.94L165.8 251.93L166 252.29L166.2 250.99L166.5 251.26L166.8 250.62L167 251.48L167.2 250.11L167.5 250.55L167.8 249.45L168 249.72L168.2 248.87L168.5 249.04L168.8 248.53L169 249.06L169.2 248.16L169.5 248.16L169.8 247.24L170 247.68L170.2 247.43L170.5 247.39L170.8 247.66L171 248.02L171.2 247.25L171.5 247.99L171.8 247.75L172 248.74L172.2 248.53L172.5 249.26L172.8 248.94L173 249.57L173.2 248.83L173.5 248.55L173.8 248.2L174 248.45L174.2 247.69L174.5 247.71L174.8 245.7L175 245.96L175.2 245.17L175.5 245.59L175.8 243.99L176 244.7L176.2 244.27L176.5 245.3L176.8 243.91L177 244.29L177.2 242.57L177.5 242.98L177.8 242.18L178 243.42L178.2 242.67L178.5 242.86L178.8 242.29L179 242.78L179.2 241.79L179.5 242.68L179.8 242.34L180 242.64L180.2 242.09L180.5 243.26L180.8 241.74L181 242.53L181.2 241.8L181.5 242.94L181.8 242.48L182 242.54L182.2 241.2L182.5 242.25L182.8 242.14L183 242.83L183.2 241.7L183.5 242.92L183.8 241.73L184 242.3L184.2 241.73L184.5 242.61L184.8 242.16L185 242.79L185.2 241.71L185.5 242.32L185.8 241.89L186 242.69L186.2 241.57L186.5 242.2L186.8 241.89L187 242.6L187.2 242.43L187.5 242.81L187.8 242.57L188 242.32L188.2 243.31L188.5 244L188.8 243.32L189 244.19L189.2 243.72L189.5 245.23L189.8 243.76L190 246.07L190.2 245.87L190.5 247.5L190.8 247.43L191 248.73L191.2 248.85L191.5 249.95L191.8 250L192 252.09L192.2 252.08L192.5 252.86L192.8 252.05L193 252.69L193.2 252.6L193.5 253.4L193.8 252.69L194 252.86L194.2 251.29L194.5 251.53L194.8 251.19L195 252.47L195.2 251.26L195.5 251.38L195.8 250.12L196 251.04L196.2 250.45L196.5 251.59L196.8 250.69L197 250.49L197.2 249.43L197.5 249.19L197.8 249.03L198 249.93L198.2 249.03L198.5 249.31L198.8 247.71L199 247.99L199.2 247.18L199.5 249.04L199.8 247.2L200 246.96L200.2 244.99L200.5 245.42L200.8 245.15L201 244.95L201.2 244.52L201.5 245.25L201.8 244.04L202 245.1L202.2 244.88L202.5 245.41L202.8 246.22L203 247.55L203.2 246.93L203.5 246.87L203.8 246.15L204 246.7L204.2 246.15L204.5 246.47L204.8 245.26L205 244.88L205.2 244.85L205.5 244.62L205.8 243.05L206 244.16L206.2 243.83L206.5 243.51L206.8 242.06L207 243.26L207.2 241.88L207.5 241.95L207.8 240.77L208 240.17L208.2 239.58L208.5 239.83L208.8 239.04L209 238.74L209.2 238.01L209.5 238.76L209.8 238.59L210 239.1L210.2 238.16L210.5 239.46L210.8 238.37L211 238.86L211.2 237.85L211.5 238.17L211.8 237.24L212 238.18L212.2 237.23L212.5 238.74L212.8 238.37L213 239.06L213.2 238.12L213.5 238.66L213.8 237.89L214 238.35L214.2 237.27L214.5 238.69L214.8 238.19L215 238.33L215.2 237.29L215.5 237.48L215.8 236.62L216 237.38L216.2 237.57L216.5 237.8L216.8 237.09L217 237.21L217.2 237.13L217.5 238.13L217.8 238.33L218 239.74L218.2 239.81L218.5 240.43L218.8 239.99L219 240.62L219.2 240.08L219.5 240.15L219.8 239.35L220 240.23L220.2 239.92L220.5 240.82L220.8 239.71L221 240.55L221.2 239.91L221.5 241.12L221.8 239.28L222 241.34L222.2 240.16L222.5 241.76L222.8 241.33L223 240.94L223.2 239.61L223.5 239.79L223.8 238.4L224 237.99L224.2 236.89L224.5 237.44L224.8 236.09L225 236.31L225.2 235.07L225.5 235.77L225.8 234.72L226 234.7L226.2 234.19L226.5 235.11L226.8 236.14L227 237.6L227.2 237.31L227.5 237.94L227.8 237.14L228 238.28L228.2 237.78L228.5 238.35L228.8 237.71L229 239.42L229.2 238.85L229.5 239.52L229.8 239.08L230 239.45L230.2 238.21L230.5 238.66L230.8 238.4L231 239.64L231.2 239.26L231.5 239.36L231.8 238.5L232 239.65L232.2 239.35L232.5 239.64L232.8 239.41L233 239.64L233.2 238.76L233.5 238.78L233.8 238.25L234 238.65L234.2 238.88L234.5 237.7L234.8 236.43L235 236.12L235.2 235.25L235.5 235.17L235.8 233.84L236 234.07L236.2 232.94L236.5 233.24L236.8 232.51L237 232.29L237.2 231.45L237.5 231.8L237.8 230.51L238 230.96L238.2 230.14L238.5 230.08L238.8 229.07L239 229.38L239.2 227.88L239.5 228.45L239.8 227.68L240 229.29L240.2 227.36L240.5 228.07L240.8 226.65L241 227.02L241.2 226.38L241.5 226.57L241.8 225.79L242 226.4L242.2 225.6L242.5 227.11L242.8 227.17L243 228.46L243.2 228.17L243.5 228.83L243.8 229.02L244 229.91L244.2 229.59L244.5 230.84L244.8 230.18L245 230.25L245.2 230.87L245.5 231.4L245.8 231.29L246 232.07L246.2 231.9L246.5 232.89L246.8 232.78L247 234.8L247.2 233.81L247.5 235.32L247.8 235.38L248 237.23L248.2 237.14L248.5 239.02L248.8 238.63L249 240.03L249.2 240.42L249.5 241.4L249.8 241.98L250 242.82L250.2 242.78L250.5 243.17L250.8 242.36L251 243.71L251.2 243.27L251.5 244.31L251.8 242.63L252 243.75L252.2 242.85L252.5 243.18L252.8 242.09L253 242.87L253.2 242.24L253.5 243.25L253.8 242.89L254 243.47L254.2 242.45L254.5 242.47L254.8 241.34L255 242.19L255.2 241.91L255.5 242.39L255.8 240.95L256 241.08L256.2 239.52L256.5 240.49L256.8 240.1L257 240.99L257.2 239.81L257.5 239.82L257.8 238.73L258 239.48L258.2 239.62L258.5 240.07L258.8 239.33L259 239.61L259.2 238.98L259.5 239.57L259.8 237.92L260 238.73L260.2 237.58L260.5 238.14L260.8 236.74L261 236.71L261.2 234.62L261.5 236.25L261.8 235.37L262 236.3L262.2 235.44L262.5 236.37L262.8 234.06L263 236.04L263.2 235.55L263.5 236.68L263.8 236.48L264 236.85L264.2 236.59L264.5 236.23L264.8 235.86L265 237.05L265.2 235.57L265.5 237.5L265.8 236.56L266 237.51L266.2 237.29L266.5 237.93L266.8 237.67L267 238.4L267.2 237.75L267.5 239.14L267.8 238.13L268 238.59L268.2 238.01L268.5 239.78L268.8 239.13L269 239.51L269.2 239.92L269.5 239.89L269.8 239.47L270 239.81L270.2 239.31L270.5 239.48L270.8 239.25L271 240.92L271.2 239.64L271.5 239.75L271.8 239.16L272 239.09L272.2 237.89L272.5 237.63L272.8 237.38L273 236.22L273.2 235.41L273.5 235.91L273.8 235.49L274 235L274.2 234.03L274.5 235.02L274.8 234.27L275 235.08L275.2 234.33L275.5 235.35L275.8 234.5L276 235.69L276.2 235.58L276.5 236.54L276.8 236.11L277 237.11L277.2 236.11L277.5 236.83L277.8 236.8L278 237.16L278.2 235.78L278.5 236.29L278.8 235.94L279 236.44L279.2 236L279.5 236.08L279.8 234.03L280 235.81L280.2 234.69L280.5 235.81L280.8 234.71L281 235.96L281.2 233.63L281.5 234.21L281.8 234.17L282 234.93L282.2 234.71L282.5 235.54L282.8 234.66L283 236.04L283.2 235.67L283.5 236.27L283.8 235.93L284 236.32L284.2 235.72L284.5 236.12L284.8 235.78L285 235.2L285.2 235.54L285.5 236.21L285.8 235.35L286 235.45L286.2 234.26L286.5 233.95L286.8 232.69L287 233.28L287.2 233.03L287.5 233.19L287.8 232.25L288 233.05L288.2 232.43L288.5 232.68L288.8 231.83L289 232.54L289.2 231.7L289.5 232.38L289.8 231.44L290 231.97L290.2 231.51L290.5 232.19L290.8 231.37L291 232.36L291.2 232.09L291.5 233.28L291.8 233.84L292 235.29L292.2 234.94L292.5 235.27L292.8 234.38L293 235.2L293.2 235.17L293.5 234.8L293.8 235.07L294 235.67L294.2 235.23L294.5 236.67L294.8 236.27L295 237.17L295.2 236.63L295.5 237.86L295.8 237.47L296 238.25L296.2 237.83L296.5 239.59L296.8 239.64L297 241.22L297.2 240.24L297.5 241.02L297.8 240.19L298 241.49L298.2 241.17L298.5 242.03L298.8 241.2L299 242.36L299.2 241.64L299.5 243.31L299.8 243.28L300 244.05L300.2 244.1L300.5 244.74L300.8 244.43L301 244.89L301.2 244.49L301.5 245.04L301.8 244.45L302 245.85L302.2 245.39L302.5 246.72L302.8 246.51L303 247.66L303.2 247.25L303.5 248.56L303.8 248.92L304 249.61L304.2 249.07L304.5 249.04L304.8 248.68L305 249.65L305.2 249.3L305.5 249.72L305.8 248.75L306 248.49L306.2 248.37L306.5 249.09L306.8 248.8L307 249.79L307.2 248.89L307.5 249.22L307.8 248.1L308 249.5L308.2 248.74L308.5 249.35L308.8 248.01L309 247.86L309.2 247.24L309.5 248.09L309.8 247.18L310 247.26L310.2 246.35L310.5 246.84L310.8 246.24L311 246.11L311.2 245.3L311.5 245.26L311.8 244.95L312 244.97L312.2 243.65L312.5 243.87L312.8 243.49L313 243.37L313.2 241.59L313.5 241.57L313.8 239.96L314 240.46L314.2 239.21L314.5 239.97L314.8 239.24L315 239.92L315.2 239.06L315.5 239.31L315.8 239.21L316 238.44L316.2 236.24L316.5 237.38L316.8 236.72L317 237.05L317.2 236.01L317.5 236.71L317.8 236.35L318 236.45L318.2 236.62L318.5 236.59L318.8 235.04L319 235.45L319.2 234.29L319.5 235.23L319.8 234.47L320 235.18L320.2 235.92L320.5 235.02L320.8 234.67L321 236.13L321.2 235.27L321.5 235.63L321.8 234.75L322 235.59L322.2 234.5L322.5 235.23L322.8 233.75L323 234.23L323.2 233.62L323.5 235L323.8 234.12L324 234.43L324.2 234.09L324.5 234.14L324.8 233.6L325 234.34L325.2 233.9L325.5 234.78L325.8 233.14L326 234.4L326.2 233.3L326.5 234.19L326.8 232.87L327 233.89L327.2 233.09L327.5 234.26L327.8 233.1L328 233.16L328.2 231.45L328.5 231.73L328.8 232.01L329 232.38L329.2 231L329.5 231.39L329.8 230.59L330 230.42L330.2 230.16L330.5 230.94L330.8 230.8L331 231.34L331.2 230.63L331.5 230.5L331.8 230.22L332 230.86L332.2 230.99L332.5 231.79L332.8 232.1L333 231.94L333.2 231.52L333.5 232.87L333.8 232.79L334 234.11L334.2 233.74L334.5 234.57L334.8 234.05L335 234.25L335.2 233.86L335.5 234.65L335.8 234.61L336 235.47L336.2 234.75L336.5 235.34L336.8 234.74L337 235.95L337.2 235.67L337.5 236.1L337.8 234.26L338 236.45L338.2 236.47L338.5 237.79L338.8 237.13L339 237.17L339.2 237.61L339.5 238.16L339.8 238.36L340 239.2L340.2 238.71L340.5 239.5L340.8 238.87L341 239.37L341.2 238.68L341.5 239.68L341.8 238.9L342 239.92L342.2 238.59L342.5 239.04L342.8 238.46L343 239.67L343.2 239.02L343.5 240.14L343.8 240.29L344 241.22L344.2 240.47L344.5 240.92L344.8 240.27L345 239.68L345.2 239.4L345.5 240.27L345.8 239.96L346 240.39L346.2 239.15L346.5 239.09L346.8 238.3L347 239.72L347.2 239.53L347.5 239.86L347.8 239.37L348 240.22L348.2 239.86L348.5 239.91L348.8 239.25L349 239.99L349.2 238.75L349.5 239.75L349.8 238.64L350 239.2L350.2 238.6L350.5 239.32L350.8 238.38L351 238.66L351.2 238.37L351.5 238.13L351.8 237.87L352 238.72L352.2 237.97L352.5 238.36L352.8 237.3L353 237.7L353.2 236.07L353.5 238.19L353.8 236.96L354 236.97L354.2 236.06L354.5 236.54L354.8 235.63L355 236.04L355.2 235.77L355.5 236.02L355.8 235.45L356 236.11L356.2 235.75L356.5 236.24L356.8 236.02L357 236.22L357.2 234.82L357.5 234.53L357.8 232.91L358 233.52L358.2 234.26L358.5 233.82L358.8 233.15L359 233.46L359.2 232.65L359.5 232.82L359.8 232.34L360 232.71L360.2 231.54L360.5 232.03L360.8 230.74L361 230.97L361.2 229.65L361.5 229.44L361.8 227.97L362 227.93L362.2 226.42L362.5 227.25L362.8 226.24L363 226.57L363.2 224.28L363.5 224.84L363.8 223.56L364 224.34L364.2 223.37L364.5 223.73L364.8 222.84L365 224.49L365.2 223.34L365.5 224.5L365.8 224.35L366 224.76L366.2 223.55L366.5 224.69L366.8 224.5L367 225.39L367.2 224.97L367.5 225.87L367.8 224.4L368 224.96L368.2 223.26L368.5 224.99L368.8 224.25L369 225.22L369.2 224.2L369.5 224.54L369.8 224.81L370 225.64L370.2 224.95L370.5 225.34L370.8 224.46L371 225.46L371.2 224.59L371.5 225.12L371.8 224.91L372 225.77L372.2 224.86L372.5 225.53L372.8 224.64L373 225.19L373.2 224.77L373.5 225.92L373.8 225.4L374 226.77L374.2 226.11L374.5 226.91L374.8 226.29L375 227.88L375.2 227.01L375.5 228.18L375.8 227.09L376 227.25L376.2 226.29L376.5 227.44L376.8 226.83L377 229.01L377.2 227.38L377.5 228L377.8 226.93L378 228.84L378.2 226.99L378.5 227.86L378.8 227.58L379 228.13L379.2 226.68L379.5 227.55L379.8 226.41L380 227.33L380.2 227.03L380.5 228.09L380.8 227.64L381 228.08L381.2 227.3L381.5 227.65L381.8 227.17L382 227.09L382.2 226.5L382.5 227.26L382.8 227.1L383 227.36L383.2 227.03L383.5 227.83L383.8 227.45L384 227.68L384.2 226.71L384.5 227.81L384.8 227.5L385 228.63L385.2 227.3L385.5 226.65L385.8 225.69L386 226.19L386.2 225.75L386.5 226.51L386.8 225.95L387 226.65L387.2 225.14L387.5 226.76L387.8 224.88L388 225.51L388.2 225L388.5 225.9L388.8 225.92L389 227.29L389.2 227.47L389.5 229.17L389.8 228.95L390 229.9L390.2 228.68L390.5 229.37L390.8 229.04L391 229.59L391.2 229.14L391.5 229.35L391.8 229.61L392 229.98L392.2 229.58L392.5 230.04L392.8 229.63L393 230.37L393.2 230.31L393.5 230.63L393.8 230.28L394 230.87L394.2 230.22L394.5 230.86L394.8 229.51L395 229.47L395.2 228.45L395.5 229.49L395.8 228.66L396 229.59L396.2 228.81L396.5 230.06L396.8 229.99L397 230.76L397.2 229.84L397.5 230.82L397.8 229.47L398 230.16L398.2 229.06L398.5 229.6L398.8 228.67L399 229.06L399.2 227.64L399.5 227.91L399.8 226.68L400 226.86L400.2 225.75L400.5 225.54L400.8 224.24L401 225.05L401.2 224.1L401.5 224.6L401.8 223.27L402 224.11L402.2 223.14L402.5 224.23L402.8 224.19L403 225.18L403.2 224.63L403.5 225.35L403.8 224.97L404 225.85L404.2 225.85L404.5 225.85L404.8 224.17L405 225.2L405.2 225.3L405.5 226.02L405.8 224.99L406 225.81L406.2 226.29L406.5 227.05L406.8 226.09L407 226.79L407.2 226.76L407.5 227.77L407.8 227.56L408 228.63L408.2 227.56L408.5 228.52L408.8 228.35L409 229.2L409.2 228.54L409.5 229.37L409.8 228.65L410 229.91L410.2 229.28L410.5 230.46L410.8 230.11L411 229.74L411.2 230.94L411.5 232.06L411.8 231.54L412 231.92L412.2 231.29L412.5 231.71L412.8 231.03L413 231.74L413.2 231.55L413.5 231.99L413.8 232.06L414 232.95L414.2 232.58L414.5 233.56L414.8 233.16L415 233.95L415.2 233.43L415.5 234.37L415.8 233.74L416 234.74L416.2 233.96L416.5 234.54L416.8 233.99L417 235.03L417.2 234.38L417.5 234.89L417.8 234.81L418 235.79L418.2 235.15L418.5 235.72L418.8 235.66L419 236.71L419.2 236.7L419.5 237.37L419.8 236.48L420 237.25L420.2 236.67L420.5 237.88L420.8 236.83L421 237.91L421.2 236.86L421.5 237.91L421.8 236.92L422 237.64L422.2 237.02L422.5 238.22L422.8 237.72L423 238.75L423.2 238.4L423.5 239L423.8 238.17L424 238.54L424.2 237.48L424.5 237.34L424.8 236.77L425 236.58L425.2 235.68L425.5 235.92L425.8 235.23L426 235.79L426.2 235.02L426.5 235.35L426.8 234.11L427 235.62L427.2 235.33L427.5 235.08L427.8 233.76L428 234.5L428.2 233.55L428.5 232.96L428.8 232.54L429 232.26L429.2 230.84L429.5 231.77L429.8 230.4L430 231.3L430.2 229.91L430.5 230.47L430.8 229.8L431 230.61L431.2 230.52L431.5 229.99L431.8 229.56L432 230.81L432.2 229.51L432.5 230.4L432.8 229.79L433 230.95L433.2 230.47L433.5 231.57L433.8 230.78L434 231.52L434.2 230.93L434.5 232.13L434.8 231.21L435 231.51L435.2 230.96L435.5 232.01L435.8 231.99L436 232.62L436.2 231.6L436.5 232.55L436.8 231.86L437 233.31L437.2 231.71L437.5 233.48L437.8 232.07L438 232.4L438.2 232.1L438.5 233.2L438.8 232.47L439 232.92L439.2 232.2L439.5 232.57L439.8 232.24L440 232.74L440.2 232.33L440.5 232.5L440.8 231.77L441 231.54L441.2 230.73L441.5 230.96L441.8 230.46L442 230.7L442.2 230.01L442.5 230.66L442.8 229.99L443 231.19L443.2 229.49L443.5 230.82L443.8 230.43L444 230.76L444.2 230.18L444.5 230.89L444.8 230.09L445 230.45L445.2 229.92L445.5 231L445.8 230.69L446 231.82L446.2 230.84L446.5 231.27L446.8 230.15L447 230.76L447.2 229.72L447.5 230.09L447.8 229.16L448 229.96L448.2 228.8L448.5 229.67L448.8 228.71L449 229.83L449.2 229.06L449.5 229.59L449.8 228.32L450 228.85L450.2 228.19L450.5 229.26L450.8 228.48L451 228.68L451.2 227.62L451.5 228.24L451.8 227.9L452 228.54L452.2 228.4L452.5 229.19L452.8 228.05L453 228.31L453.2 227.4L453.5 228.26L453.8 228.21L454 228.57L454.2 227.65L454.5 227.55L454.8 226.61L455 227.27L455.2 227.34L455.5 227.86L455.8 227.15L456 227.15L456.2 226L456.5 227.4L456.8 226.34L457 226.62L457.2 224.84L457.5 225.51L457.8 225.32L458 227.19L458.2 226.75L458.5 227.34L458.8 226.61L459 227.92L459.2 227.37L459.5 229.17L459.8 228.5L460 230.07L460.2 229.26L460.5 229.75L460.8 229.31L461 230.36L461.2 230.29L461.5 231.25L461.8 230.7L462 232.05L462.2 231.54L462.5 232.45L462.8 232.38L463 232.96L463.2 233.24L463.5 234.05L463.8 233.83L464 235.03L464.2 234.54L464.5 235.52L464.8 234.91L465 236.37L465.2 236.32L465.5 236.37L465.8 236.55L466 237.4L466.2 237.13L466.5 237.9L466.8 238.06L467 238.61L467.2 238.38L467.5 239.41L467.8 238.95L468 240.11L468.2 239.87L468.5 241.06L468.8 240.19L469 240.92L469.2 240.08L469.5 240.63L469.8 241.17L470 241.91L470.2 241.76L470.5 241.91L470.8 242.06L471 242.52L471.2 242.32L471.5 243.71L471.8 243.7L472 245.01L472.2 244.3L472.5 245L472.8 244.43L473 245.33L473.2 244.7L473.5 246.07L473.8 245.52L474 246.92L474.2 246.6L474.5 247.65L474.8 246.96L475 248.05L475.2 247.8L475.5 248.36L475.8 249.66L476 249.29L476.2 249.07L476.5 250.09L476.8 249.31L477 249.98L477.2 248.59L477.5 249.49L477.8 250.19L478 250.88L478.2 249.92L478.5 249.49L478.8 249.78L479 250.92L479.2 250.91L479.5 251.19L479.8 250.26L480 250.46L480.2 249.54L480.5 250L480.8 248.99L481 249.38L481.2 247.72L481.5 249.06L481.8 248.39L482 247.87L482.2 247.45L482.5 247.53L482.8 246.28L483 247.28L483.2 246.08L483.5 246.3L483.8 244.71L484 245.16L484.2 244.18L484.5 244.62L484.8 243.34L485 243.55L485.2 242.3L485.5 242.91L485.8 241.75L486 242.06L486.2 240.25L486.5 241.46L486.8 239.85L487 240.14L487.2 239.44L487.5 240.13L487.8 238.93L488 239.07L488.2 237.76L488.5 238.57L488.8 236.19L489 237.58L489.2 236.7L489.5 237.2L489.8 235.75L490 236.33L490.2 235.2L490.5 235.42L490.8 234.95L491 235.63L491.2 234.67L491.5 234.87L491.8 233.53L492 234.18L492.2 232.8L492.5 233.35L492.8 232.09L493 232.44L493.2 232.06L493.5 232.43L493.8 232.32L494 232.59L494.2 232.85L494.5 233.35L494.8 232.97L495 233.08L495.2 232.68L495.5 233.37L495.8 233.1L496 233.91L496.2 232.85L496.5 233.32L496.8 232.97L497 234.56L497.2 233.69L497.5 233.79L497.8 233.38L498 234.92L498.2 234.66L498.5 235.3L498.8 234.45L499 235.1L499.2 235.02L499.5 235.49L499.8 233.83L500 234.88L500.2 234.05L500.5 234.41L500.8 234.12L501 234.86L501.2 233.98L501.5 234.58L501.8 233.16L502 233.77L502.2 232.97L502.5 233.53L502.8 233.2L503 234.01L503.2 231.87L503.5 233.12L503.8 232.24L504 232.39L504.2 231.21L504.5 231.79L504.8 231.42L505 231.03L505.2 230.43L505.5 231.49L505.8 230.18L506 230.67L506.2 230.21L506.5 230.3L506.8 229.13L507 229.35L507.2 228.44L507.5 228.81L507.8 227.8L508 228.56L508.2 227.32L508.5 228.11L508.8 228.13L509 228.1L509.2 227.3L509.5 228.03L509.8 227.87L510 228.51L510.2 228.04L510.5 229.04L510.8 228.48L511 229.14L511.2 228.49L511.5 229.54L511.8 229.03L512 229.73L512.2 229.62L512.5 230.88L512.8 230.08L513 231.89L513.2 231.59L513.5 231.97L513.8 231.1L514 231.8L514.2 231.65L514.5 231.81L514.8 230.35L515 230.69L515.2 229.62L515.5 230.47L515.8 230.65L516 231.48L516.2 231.15L516.5 231.38L516.8 230.85L517 232.02L517.2 231.67L517.5 232.69L517.8 231.2L518 232.17L518.2 230.91L518.5 231.83L518.8 230.96L519 232.88L519.2 230.94L519.5 231.38L519.8 231.36L520 232.5L520.2 232.32L520.5 233.23L520.8 233.33L521 234.19L521.2 233.1L521.5 233.93L521.8 233.25L522 234.5L522.2 233.4L522.5 233.37L522.8 231.74L523 232.71L523.2 232.18L523.5 232.77L523.8 231.8L524 232.07L524.2 231.16L524.5 231.88L524.8 230.58L525 231.2L525.2 230.56L525.5 231.49L525.8 230.73L526 231.48L526.2 230.92L526.5 232.03L526.8 232.04L527 232.45L527.2 230.62L527.5 232.59L527.8 232.48L528 233.23L528.2 232.84L528.5 233.68L528.8 232.98L529 234.63L529.2 235.63L529.5 235.47L529.8 234.43L530 235.36L530.2 235.64L530.5 236.29L530.8 235.98L531 237.08L531.2 236.79L531.5 238.09L531.8 237.21L532 238.4L532.2 237.73L532.5 238.4L532.8 238.18L533 239.05L533.2 238.42L533.5 239.12L533.8 237.87L534 238.92L534.2 238.37L534.5 239.24L534.8 238.3L535 239.39L535.2 238.27L535.5 238.48L535.8 237.16L536 238.36L536.2 237.47L536.5 238.15L536.8 237.55L537 237.86L537.2 236.94L537.5 237.29L537.8 236.54L538 236.74L538.2 235.38L538.5 236.34L538.8 235.11L539 235.96L539.2 235.33L539.5 236.62L539.8 236.11L540 237.03L540.2 235.15L540.5 236.91L540.8 236.51L541 238.57L541.2 237.61L541.5 237.11L541.8 236.42L542 236.78L542.2 236.09L542.5 236.83L542.8 236.3L543 236.53L543.2 236.21L543.5 237.03L543.8 236.4L544 236.96L544.2 235.86L544.5 236.12L544.8 236L545 237.18L545.2 236.45L545.5 236.89L545.8 235.85L546 236.34L546.2 235.94L546.5 236.67L546.8 236.34L547 238.12L547.2 236.77L547.5 237.81L547.8 236.72L548 237.6L548.2 236.53L548.5 237.81L548.8 237.12L549 237.92L549.2 236.84L549.5 237.35L549.8 236.79L550 238.26L550.2 237.06L550.5 237.98L550.8 235.72L551 236.66L551.2 234.77L551.5 235.46L551.8 233.69L552 233.84L552.2 232.54L552.5 232.44L552.8 232.36L553 231.83L553.2 230.44L553.5 231.61L553.8 231.11L554 231.6L554.2 230.51L554.5 231.68L554.8 230.66L555 231.79L555.2 230.63L555.5 230.93L555.8 229.71L556 231.55L556.2 232.27L556.5 232.71L556.8 232.88L557 233.61L557.2 232.56L557.5 233.16L557.8 232.67L558 233.27L558.2 232.46L558.5 232.59L558.8 231.36L559 232.18L559.2 231.02L559.5 232.84L559.8 232.36L560 232.35L560.2 231.35L560.5 231.85L560.8 231.14L561 231.89L561.2 231.55L561.5 231.96L561.8 231L562 231.54L562.2 230.45L562.5 230.77L562.8 230.45L563 231.13L563.2 231.12L563.5 230.94L563.8 230.08L564 231.09L564.2 230.73L564.5 231.61L564.8 229.85L565 230.32L565.2 229.49L565.5 230.06L565.8 229.31L566 230.33L566.2 228.93L566.5 230.23L566.8 230.05L567 230.7L567.2 230.43L567.5 231.3L567.8 230.83L568 231.32L568.2 230.33L568.5 230.82L568.8 230.04L569 230.69L569.2 229.59L569.5 230.83L569.8 230.61L570 231.29L570.2 230.38L570.5 231.13L570.8 230.72L571 231.25L571.2 230.56L571.5 231.33L571.8 230.22L572 230.63L572.2 230.03L572.5 230.95L572.8 230.4L573 230.97L573.2 230.38L573.5 230.49L573.8 229.67L574 229.69L574.2 229L574.5 229.9L574.8 229.42L575 229.49L575.2 228.69L575.5 229.71L575.8 229.11L576 229.6L576.2 228.51L576.5 228.01" stroke="#008000" stroke-width="0.90"/>
<path d="M80.5 373.9H576.5" stroke="#000080"/>
<path d="M80.5 383.5L93.5 383.5L93.5 364.5L110.5 364.5L110.5 383.5L152.5 383.5L152.5 364.5L163.5 364.5L163.5 383.5L219.5 383.5L219.5 364.5L232.5 364.5L232.5 383.5L290.5 383.5L290.5 364.5L304.5 364.5L304.5 383.5L346.5 383.5L346.5 364.5L359.5 364.5L359.5 383.5L396.5 383.5L396.5 364.5L407.5 364.5L407.5 383.5L449.5 383.5L449.5 364.5L462.5 364.5L462.5 383.5L497.5 383.5L497.5 364.5L508.5 364.5L508.5 383.5L549.5 383.5L549.5 364.5L561.5 364.5L561.5 383.5L576.5 383.5" stroke="#0ff" stroke-linejoin="miter"/>
<path d="M80.5 412.4H576.5" stroke="#f00"/>
</g>
<rect x="80.5" y="58.5" width="496" height="369" fill="none" stroke="#000" stroke-width="1.11"/>
<path d="M75.5 64.5H80.5M75.5 113.5H80.5M75.5 161.5H80.5M75.5 209.5H80.5M75.5 257.5H80.5M75.5 306.5H80.5M75.5 354.5H80.5M75.5 402.5H80.5M100.5 427.5V432.5M164.5 427.5V432.5M229.5 427.5V432.5M294.5 427.5V432.5M358.5 427.5V432.5M423.5 427.5V432.5M488.5 427.5V432.5M552.5 427.5V432.5" stroke="#000" stroke-width="1.11" fill="none"/>
<rect x="87.5" y="65.5" width="127" height="150" rx="2.78" ry="2.78" fill="#fff" fill-opacity="0.8" stroke="#ccc" stroke-opacity="0.8" stroke-width="1.39"/>
<path d="M93.15 76.5H120.85" stroke="#000" stroke-width="0.7" fill="none"/>
<path d="M93.15 97.5H120.85" stroke="#00f" stroke-width="0.7" fill="none"/>
<path d="M93.15 118.5H120.85" stroke="#f00" stroke-width="0.7" fill="none"/>
<path d="M93.15 139.5H120.85" stroke="#008000" stroke-width="0.7" fill="none"/>
<path d="M93.15 160.5H120.85" stroke="#000080" stroke-width="0.7" fill="none"/>
<path d="M93.15 181.5H120.85" stroke="#0ff" stroke-width="0.7" fill="none"/>
<path d="M93.15 202.5H120.85" stroke="#f00" stroke-width="0.7" fill="none"/>
<g font-family="'Liberation Sans', sans-serif" fill="#000">
<text x="131.20" y="81.0" font-size="14.3px" textLength="32.50" lengthAdjust="spacingAndGlyphs">Utah</text>
<text x="168.35" y="81.0" font-size="14.3px" textLength="18.81" lengthAdjust="spacingAndGlyphs">Air</text>
<text x="131.20" y="102.0" font-size="14.3px" textLength="52.53" lengthAdjust="spacingAndGlyphs">Cabinet</text>
<text x="188.23" y="102.0" font-size="14.3px" textLength="19.68" lengthAdjust="spacingAndGlyphs">Air</text>
<text x="131.20" y="123.0" font-size="14.3px" textLength="19.61" lengthAdjust="spacingAndGlyphs">ILE</text>
<text x="155.38" y="123.0" font-size="14.3px" textLength="18.81" lengthAdjust="spacingAndGlyphs">Air</text>
<text x="131.20" y="144.0" font-size="14.3px" textLength="41.17" lengthAdjust="spacingAndGlyphs">Dome</text>
<text x="176.14" y="144.0" font-size="14.3px" textLength="18.81" lengthAdjust="spacingAndGlyphs">Air</text>
<text x="131.20" y="165.0" font-size="14.3px" textLength="19.61" lengthAdjust="spacingAndGlyphs">ILE</text>
<text x="154.58" y="165.0" font-size="14.3px" textLength="28.20" lengthAdjust="spacingAndGlyphs">cool</text>
<text x="131.20" y="186.0" font-size="14.3px" textLength="32.50" lengthAdjust="spacingAndGlyphs">Utah</text>
<text x="167.55" y="186.0" font-size="14.3px" textLength="28.20" lengthAdjust="spacingAndGlyphs">cool</text>
<text x="131.20" y="207.0" font-size="14.3px" textLength="31.70" lengthAdjust="spacingAndGlyphs">Utah</text>
<text x="167.55" y="207.0" font-size="14.3px" textLength="31.70" lengthAdjust="spacingAndGlyphs">heat</text>
<text x="288.20" y="467.0" font-size="14.3px" textLength="33.40" lengthAdjust="spacingAndGlyphs">Date</text>
<text x="326.20" y="467.0" font-size="14.3px" textLength="41.40" lengthAdjust="spacingAndGlyphs">(GMT)</text>
<text transform="translate(30.0,300.00) rotate(-90)" font-size="14.3px" textLength="88.60" lengthAdjust="spacingAndGlyphs">Temperature</text>
<text transform="translate(30.0,206.80) rotate(-90)" font-size="14.3px" textLength="19.40" lengthAdjust="spacingAndGlyphs">(C)</text>
<text x="233.82" y="49.2" font-size="17.6px" textLength="66.28" lengthAdjust="spacingAndGlyphs">APOLLO</text>
<text x="305.20" y="49.2" font-size="17.6px" textLength="117.34" lengthAdjust="spacingAndGlyphs">Temperatures</text>
</g>
<g font-family="'Liberation Sans', sans-serif" font-size="14.3px" fill="#000">
<text x="40.3" y="69" textLength="29.6" lengthAdjust="spacingAndGlyphs">32.5</text>
<text x="40.3" y="118" textLength="29.6" lengthAdjust="spacingAndGlyphs">30.0</text>
<text x="40.3" y="166" textLength="29.6" lengthAdjust="spacingAndGlyphs">27.5</text>
<text x="40.3" y="214" textLength="29.6" lengthAdjust="spacingAndGlyphs">25.0</text>
<text x="40.3" y="263" textLength="29.6" lengthAdjust="spacingAndGlyphs">22.5</text>
<text x="40.3" y="311" textLength="29.6" lengthAdjust="spacingAndGlyphs">20.0</text>
<text x="40.3" y="359" textLength="29.6" lengthAdjust="spacingAndGlyphs">17.5</text>
<text x="40.3" y="407" textLength="29.6" lengthAdjust="spacingAndGlyphs">15.0</text>
<text x="69.1" y="448" textLength="61.4" lengthAdjust="spacingAndGlyphs">31 20:14</text>
<text x="133.8" y="448" textLength="61.4" lengthAdjust="spacingAndGlyphs">31 20:44</text>
<text x="198.8" y="448" textLength="61.4" lengthAdjust="spacingAndGlyphs">31 21:14</text>
<text x="263.8" y="448" textLength="61.4" lengthAdjust="spacingAndGlyphs">31 21:44</text>
<text x="327.8" y="448" textLength="61.4" lengthAdjust="spacingAndGlyphs">31 22:14</text>
<text x="392.8" y="448" textLength="61.4" lengthAdjust="spacingAndGlyphs">31 22:44</text>
<text x="457.8" y="448" textLength="61.4" lengthAdjust="spacingAndGlyphs">31 23:14</text>
<text x="521.8" y="448" textLength="61.4" lengthAdjust="spacingAndGlyphs">31 23:44</text>
</g>
</svg>
</body></html>
